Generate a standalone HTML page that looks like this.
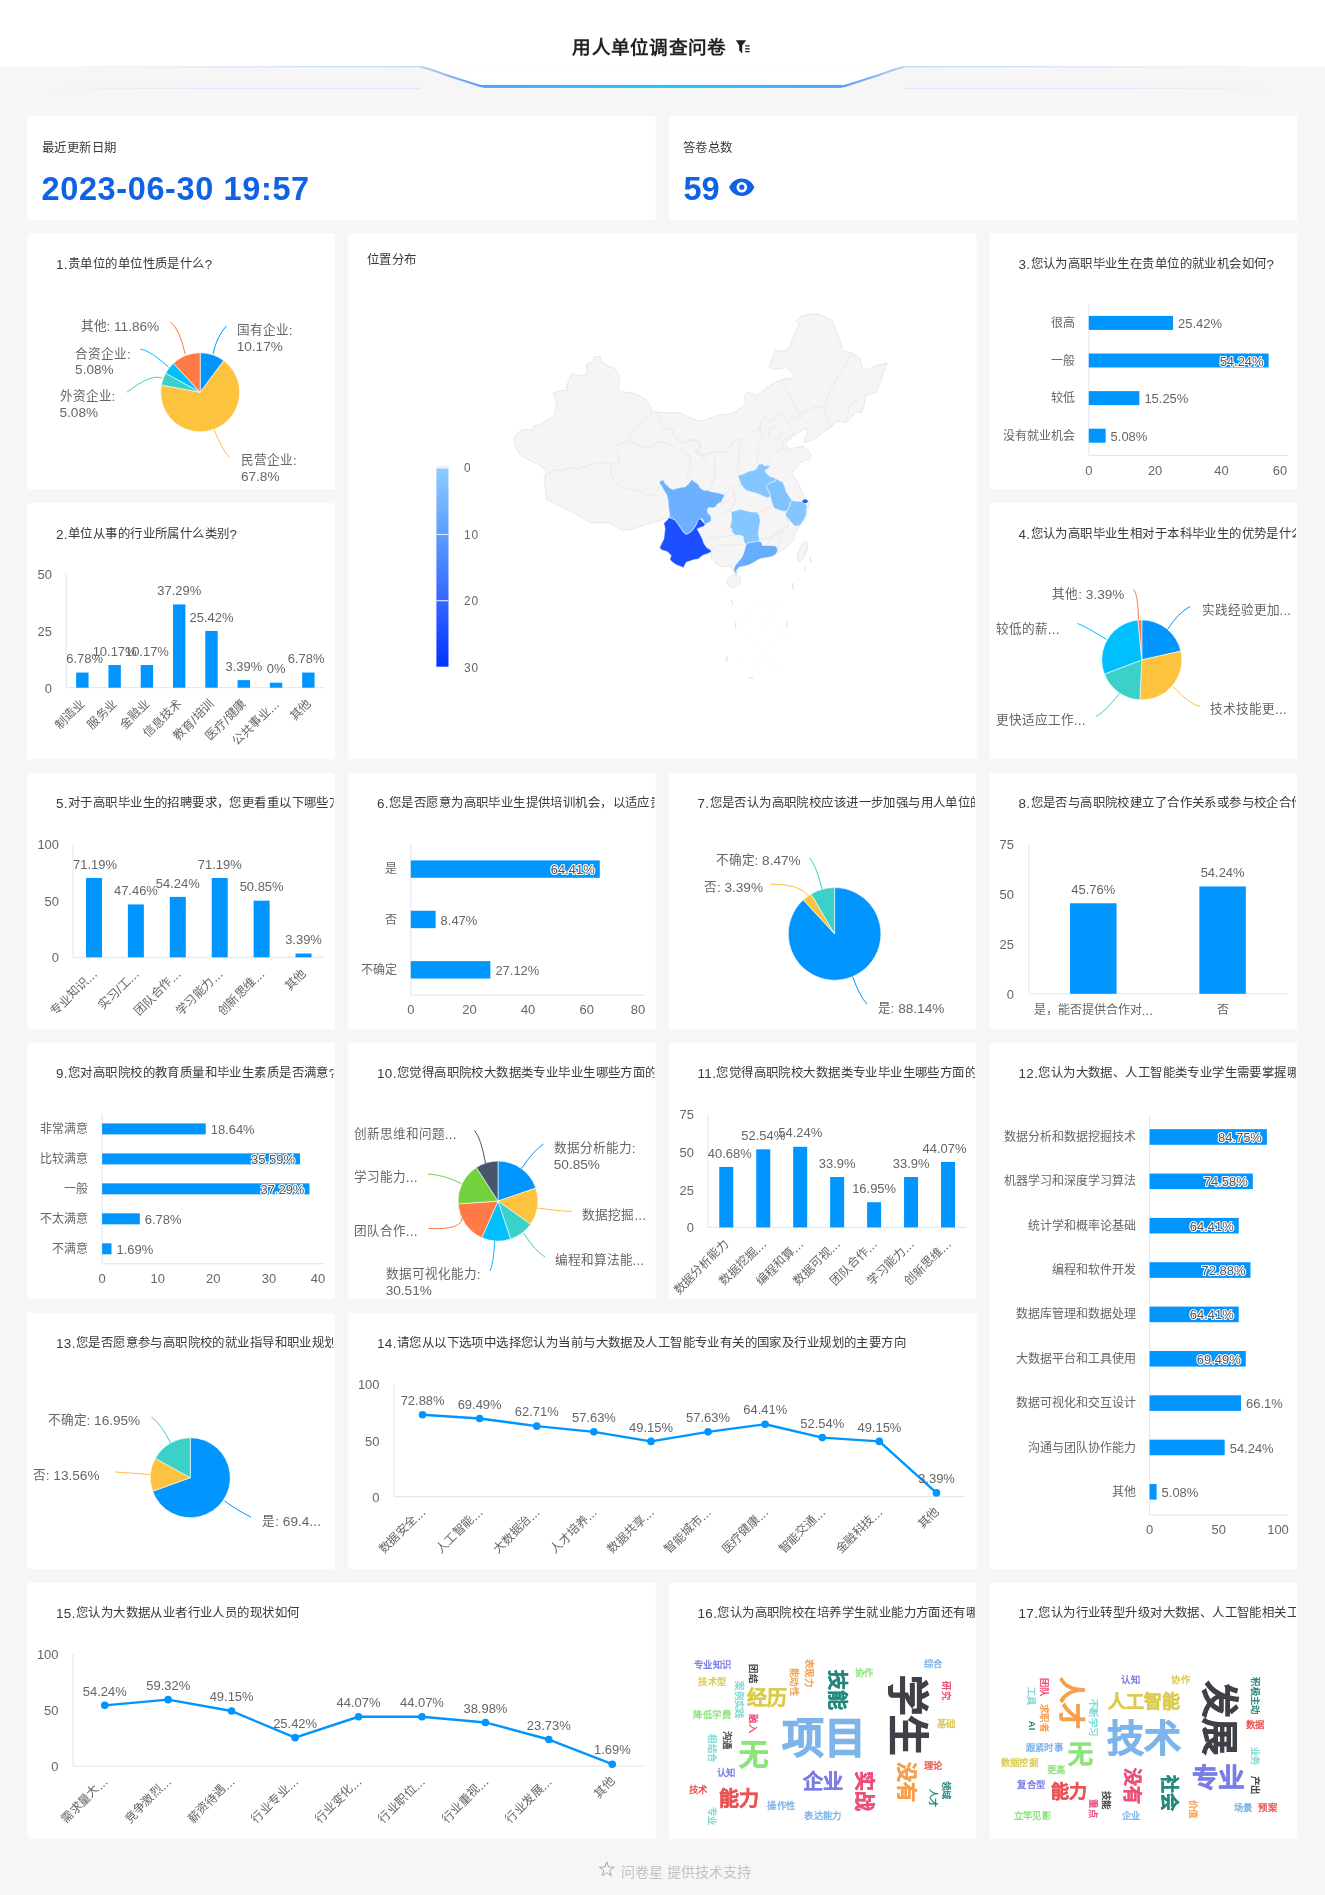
<!DOCTYPE html>
<html lang="zh-CN"><head><meta charset="utf-8"><title>用人单位调查问卷</title>
<style>
html,body{margin:0;padding:0;background:#f6f6f6;}
body{width:1325px;height:1895px;overflow:hidden;font-family:"Liberation Sans", sans-serif;}
svg{display:block;font-family:"Liberation Sans", sans-serif;will-change:transform;}
</style></head><body>
<svg width="1325" height="1895" viewBox="0 0 1325 1895">
<rect x="0.00" y="0.00" width="1325.00" height="1895.00" fill="#f6f6f6" />
<rect x="0.00" y="0.00" width="1325.00" height="66.50" fill="#ffffff" />
<defs>
<linearGradient id="hl" x1="0" y1="0" x2="1" y2="0">
<stop offset="0" stop-color="#5aa0f2"/><stop offset="0.5" stop-color="#1ec8ee"/>
<stop offset="1" stop-color="#5aa0f2"/></linearGradient>
<linearGradient id="fl" x1="0" y1="0" x2="1" y2="0">
<stop offset="0" stop-color="#c6dbf8" stop-opacity="0"/><stop offset="0.5" stop-color="#c6dbf8" stop-opacity="0.7"/>
<stop offset="1" stop-color="#b9d3f7"/></linearGradient>
<linearGradient id="fr" x1="1" y1="0" x2="0" y2="0">
<stop offset="0" stop-color="#c6dbf8" stop-opacity="0"/><stop offset="0.5" stop-color="#c6dbf8" stop-opacity="0.7"/>
<stop offset="1" stop-color="#b9d3f7"/></linearGradient>
<linearGradient id="fl2" x1="0" y1="0" x2="1" y2="0">
<stop offset="0" stop-color="#d6e5fa" stop-opacity="0"/><stop offset="0.4" stop-color="#d6e5fa"/>
<stop offset="1" stop-color="#d6e5fa"/></linearGradient>
<linearGradient id="fr2" x1="1" y1="0" x2="0" y2="0">
<stop offset="0" stop-color="#d6e5fa" stop-opacity="0"/><stop offset="0.4" stop-color="#d6e5fa"/>
<stop offset="1" stop-color="#d6e5fa"/></linearGradient>
<linearGradient id="dl" x1="0" y1="0" x2="1" y2="0">
<stop offset="0" stop-color="#b9d3f7"/><stop offset="0.5" stop-color="#7fb3f4"/><stop offset="1" stop-color="#4f9af0"/></linearGradient>
<linearGradient id="dr" x1="1" y1="0" x2="0" y2="0">
<stop offset="0" stop-color="#b9d3f7"/><stop offset="0.5" stop-color="#7fb3f4"/><stop offset="1" stop-color="#4f9af0"/></linearGradient>
<linearGradient id="vm" x1="0" y1="0" x2="0" y2="1">
<stop offset="0" stop-color="#8ccdff"/><stop offset="0.333" stop-color="#5b9dff"/>
<stop offset="0.667" stop-color="#3366ff"/><stop offset="1" stop-color="#0033ff"/></linearGradient>
</defs>
<path d="M419,66.5 L437,72 L483,86.5 L842,86.5 L888,72 L906,66.5 Z" fill="#ffffff"/>
<rect x="40.00" y="66.20" width="381.00" height="1.10" fill="url(#fl)" />
<rect x="904.00" y="66.20" width="381.00" height="1.10" fill="url(#fr)" />
<rect x="40.00" y="87.80" width="381.00" height="1.00" fill="url(#fl2)" />
<rect x="904.00" y="87.80" width="381.00" height="1.00" fill="url(#fr2)" />
<path d="M421,66.8 C428,68.5 436,71.5 446,75 L478,85.2 C480,86 482,86.4 485,86.4" fill="none" stroke="url(#dl)" stroke-width="2" stroke-linecap="round"/>
<path d="M904,66.8 C897,68.5 889,71.5 879,75 L847,85.2 C845,86 843,86.4 840,86.4" fill="none" stroke="url(#dr)" stroke-width="2" stroke-linecap="round"/>
<rect x="483.50" y="84.90" width="358.00" height="3.00" fill="url(#hl)" />
<text x="649.5" y="47.5" font-size="18.6" fill="#222222" text-anchor="middle" font-weight="bold" dominant-baseline="central" letter-spacing="0.3">用人单位调查问卷</text>
<path d="M735.9,40.3 L746.2,40.3 L742.2,45.6 L742.2,53.5 L739.2,50.6 L739.2,45.6 Z" fill="#222222"/>
<line x1="745.20" y1="45.90" x2="749.60" y2="45.90" stroke="#222222" stroke-width="1.3"/>
<line x1="745.20" y1="48.80" x2="749.60" y2="48.80" stroke="#222222" stroke-width="1.3"/>
<line x1="745.20" y1="51.60" x2="749.60" y2="51.60" stroke="#222222" stroke-width="1.3"/>
<rect x="27.50" y="116.00" width="628.00" height="104.00" fill="#ffffff" />
<rect x="669.00" y="116.00" width="628.20" height="104.00" fill="#ffffff" />
<text x="42.0" y="148.2" font-size="12.4" fill="#3a3a3a" dominant-baseline="central" letter-spacing="0.42">最近更新日期</text>
<text x="41.5" y="189.0" font-size="32.5" fill="#0f62e6" font-weight="bold" dominant-baseline="central" letter-spacing="0.62">2023-06-30 19:57</text>
<text x="683.0" y="148.2" font-size="12.4" fill="#3a3a3a" dominant-baseline="central" letter-spacing="0.42">答卷总数</text>
<text x="683.5" y="189.0" font-size="32.5" fill="#0f62e6" font-weight="bold" dominant-baseline="central">59</text>
<path d="M729.3,187.2 C733.3,175.6 750.2,175.6 754.2,187.2 C750.2,198.8 733.3,198.8 729.3,187.2 Z" fill="#0f62e6"/>
<circle cx="741.8" cy="187.2" r="5.3" fill="#ffffff"/>
<circle cx="741.8" cy="187.2" r="2.6" fill="#0f62e6"/>
<rect x="27.50" y="233.40" width="307.00" height="256.00" fill="#ffffff" />
<rect x="348.50" y="233.40" width="628.00" height="525.85" fill="#ffffff" />
<rect x="990.00" y="233.40" width="307.00" height="256.00" fill="#ffffff" />
<rect x="27.50" y="503.25" width="307.00" height="256.00" fill="#ffffff" />
<rect x="990.00" y="503.25" width="307.00" height="256.00" fill="#ffffff" />
<rect x="27.50" y="773.10" width="307.00" height="256.00" fill="#ffffff" />
<rect x="348.50" y="773.10" width="307.00" height="256.00" fill="#ffffff" />
<rect x="669.00" y="773.10" width="307.00" height="256.00" fill="#ffffff" />
<rect x="990.00" y="773.10" width="307.00" height="256.00" fill="#ffffff" />
<rect x="27.50" y="1042.95" width="307.00" height="256.00" fill="#ffffff" />
<rect x="348.50" y="1042.95" width="307.00" height="256.00" fill="#ffffff" />
<rect x="669.00" y="1042.95" width="307.00" height="256.00" fill="#ffffff" />
<rect x="990.00" y="1042.95" width="307.00" height="525.85" fill="#ffffff" />
<rect x="27.50" y="1312.80" width="307.00" height="256.00" fill="#ffffff" />
<rect x="348.50" y="1312.80" width="628.00" height="256.00" fill="#ffffff" />
<rect x="27.50" y="1582.65" width="628.00" height="256.00" fill="#ffffff" />
<rect x="669.00" y="1582.65" width="307.00" height="256.00" fill="#ffffff" />
<rect x="990.00" y="1582.65" width="307.00" height="256.00" fill="#ffffff" />
<defs>
<clipPath id="cp0"><rect x="27.50" y="233.40" width="306.00" height="256.00"/></clipPath>
<clipPath id="cp1"><rect x="348.50" y="233.40" width="627.00" height="525.85"/></clipPath>
<clipPath id="cp2"><rect x="990.00" y="233.40" width="306.00" height="256.00"/></clipPath>
<clipPath id="cp3"><rect x="27.50" y="503.25" width="306.00" height="256.00"/></clipPath>
<clipPath id="cp4"><rect x="990.00" y="503.25" width="306.00" height="256.00"/></clipPath>
<clipPath id="cp5"><rect x="27.50" y="773.10" width="306.00" height="256.00"/></clipPath>
<clipPath id="cp6"><rect x="348.50" y="773.10" width="306.00" height="256.00"/></clipPath>
<clipPath id="cp7"><rect x="669.00" y="773.10" width="306.00" height="256.00"/></clipPath>
<clipPath id="cp8"><rect x="990.00" y="773.10" width="306.00" height="256.00"/></clipPath>
<clipPath id="cp9"><rect x="27.50" y="1042.95" width="306.00" height="256.00"/></clipPath>
<clipPath id="cp10"><rect x="348.50" y="1042.95" width="306.00" height="256.00"/></clipPath>
<clipPath id="cp11"><rect x="669.00" y="1042.95" width="306.00" height="256.00"/></clipPath>
<clipPath id="cp12"><rect x="990.00" y="1042.95" width="306.00" height="525.85"/></clipPath>
<clipPath id="cp13"><rect x="27.50" y="1312.80" width="306.00" height="256.00"/></clipPath>
<clipPath id="cp14"><rect x="348.50" y="1312.80" width="627.00" height="256.00"/></clipPath>
<clipPath id="cp15"><rect x="27.50" y="1582.65" width="627.00" height="256.00"/></clipPath>
<clipPath id="cp16"><rect x="669.00" y="1582.65" width="306.00" height="256.00"/></clipPath>
<clipPath id="cp17"><rect x="990.00" y="1582.65" width="306.00" height="256.00"/></clipPath>
</defs>
<g clip-path="url(#cp0)">
<text x="56.0" y="263.7" font-size="12.4" fill="#3a3a3a" dominant-baseline="central" letter-spacing="0.42"><tspan font-size="13.39">1.</tspan>贵单位的单位性质是什么<tspan font-size="13.39">?</tspan></text>
<path d="M200.20,392.30 L200.20,352.80 A39.5,39.5 0 0 1 223.76,360.60 Z" fill="#0095ff" stroke="#ffffff" stroke-width="0.6" stroke-linejoin="round"/>
<path d="M200.20,392.30 L223.76,360.60 A39.5,39.5 0 1 1 161.39,384.95 Z" fill="#fdc23e" stroke="#ffffff" stroke-width="0.6" stroke-linejoin="round"/>
<path d="M200.20,392.30 L161.39,384.95 A39.5,39.5 0 0 1 165.66,373.14 Z" fill="#3bd1c9" stroke="#ffffff" stroke-width="0.6" stroke-linejoin="round"/>
<path d="M200.20,392.30 L165.66,373.14 A39.5,39.5 0 0 1 173.41,363.27 Z" fill="#00bfff" stroke="#ffffff" stroke-width="0.6" stroke-linejoin="round"/>
<path d="M200.20,392.30 L173.41,363.27 A39.5,39.5 0 0 1 200.20,352.80 Z" fill="#ff7a45" stroke="#ffffff" stroke-width="0.6" stroke-linejoin="round"/>
<path d="M213.0,353.9 Q217.0,336.0 226.4,326.0" fill="none" stroke="#0095ff" stroke-width="1"/>
<path d="M214.1,429.4 Q221.0,448.0 229.2,457.3" fill="none" stroke="#fdc23e" stroke-width="1"/>
<path d="M161.9,378.3 Q152.0,373.0 127.0,392.2" fill="none" stroke="#3bd1c9" stroke-width="1"/>
<path d="M168.8,367.4 Q150.0,350.0 140.2,349.2" fill="none" stroke="#00bfff" stroke-width="1"/>
<path d="M185.1,353.9 Q180.0,330.0 170.7,322.0" fill="none" stroke="#ff7a45" stroke-width="1"/>
<text x="236.7" y="330.2" font-size="12.6" fill="#666666" dominant-baseline="central">国有企业<tspan font-size="13.61">:</tspan></text>
<text x="236.7" y="346.2" font-size="12.6" fill="#666666" dominant-baseline="central"><tspan font-size="13.61">10.17%</tspan></text>
<text x="240.9" y="460.3" font-size="12.6" fill="#666666" dominant-baseline="central">民营企业<tspan font-size="13.61">:</tspan></text>
<text x="240.9" y="476.2" font-size="12.6" fill="#666666" dominant-baseline="central"><tspan font-size="13.61">67.8%</tspan></text>
<text x="59.5" y="396.4" font-size="12.6" fill="#666666" dominant-baseline="central">外资企业<tspan font-size="13.61">:</tspan></text>
<text x="59.5" y="412.2" font-size="12.6" fill="#666666" dominant-baseline="central"><tspan font-size="13.61">5.08%</tspan></text>
<text x="75.1" y="353.5" font-size="12.6" fill="#666666" dominant-baseline="central">合资企业<tspan font-size="13.61">:</tspan></text>
<text x="75.1" y="369.2" font-size="12.6" fill="#666666" dominant-baseline="central"><tspan font-size="13.61">5.08%</tspan></text>
<text x="80.5" y="326.0" font-size="12.6" fill="#666666" dominant-baseline="central">其他<tspan font-size="13.61">: 11.86%</tspan></text>
</g>
<g clip-path="url(#cp1)">
<text x="367.0" y="259.5" font-size="12.4" fill="#3a3a3a" dominant-baseline="central" letter-spacing="0.42">位置分布</text>
<path d="M513.8,438.9 L516.3,434.1 L521.6,430.3 L526.1,429.5 L532.2,430.3 L534.4,425.8 L541.2,424.2 L547.3,419.7 L554.1,416.7 L554.8,410.7 L557.1,406.1 L554.8,397.1 L552.5,393.3 L563.1,390.3 L568.4,391.0 L566.1,387.3 L571.4,373.7 L582.0,375.9 L587.3,374.4 L586.5,363.9 L593.3,361.6 L594.1,357.1 L600.1,356.3 L601.6,361.6 L609.2,366.9 L615.2,368.4 L619.7,377.5 L618.2,388.8 L621.2,391.8 L633.3,393.3 L646.1,399.3 L652.9,412.2 L657.5,412.2 L671.0,412.9 L680.1,412.9 L689.2,417.5 L695.0,419.7 L702.5,421.2 L717.6,415.2 L732.7,413.7 L743.3,406.1 L745.6,401.6 L744.1,397.1 L747.1,392.5 L756.9,395.3 L764.4,389.5 L773.5,383.5 L781.0,379.7 L789.3,378.2 L794.6,379.0 L793.9,374.4 L787.1,367.6 L779.5,368.4 L772.0,369.2 L769.0,366.1 L775.8,350.3 L782.5,351.8 L790.1,347.3 L790.8,342.7 L795.4,332.2 L799.2,324.6 L796.1,320.8 L800.7,316.3 L809.7,314.1 L818.8,314.1 L826.3,317.1 L832.4,320.8 L836.1,330.7 L840.7,342.7 L842.9,351.0 L852.0,353.3 L859.5,357.8 L862.5,368.4 L868.6,369.9 L874.6,366.1 L887.5,363.1 L884.4,369.9 L880.7,380.5 L876.1,392.5 L865.6,395.6 L864.0,406.1 L861.0,412.9 L856.5,411.4 L845.9,422.7 L836.9,421.2 L830.8,427.3 L823.3,431.8 L814.2,439.3 L803.7,443.1 L807.5,431.8 L806.7,428.0 L802.2,430.3 L794.6,434.8 L787.1,442.4 L785.6,444.6 L790.0,450.0 L795.0,447.5 L803.7,446.5 L811.2,454.3 L810.5,458.1 L800.7,462.6 L793.1,471.7 L791.6,474.7 L796.1,479.2 L800.7,488.3 L803.7,495.8 L807.5,500.4 L809.7,503.4 L807.5,510.9 L806.7,515.5 L800.7,524.5 L794.6,533.6 L793.9,539.6 L788.6,545.7 L778.0,552.5 L770.5,554.7 L761.4,557.7 L755.4,560.8 L744.8,563.8 L738.8,565.3 L735.0,569.8 L737.3,574.3 L734.2,574.3 L732.7,568.3 L729.7,566.0 L722.2,566.8 L716.1,563.8 L711.1,558.0 L711.1,549.3 L711.3,552.1 L707.9,553.5 L702.5,555.5 L698.4,558.9 L694.3,559.6 L686.2,562.3 L683.5,567.8 L680.8,566.4 L676.7,565.1 L672.6,562.3 L669.9,559.6 L671.2,555.5 L667.2,551.5 L661.7,550.1 L659.7,547.4 L661.7,543.3 L663.8,539.2 L664.5,533.8 L665.1,528.4 L663.8,522.9 L665.8,521.6 L669.2,517.5 L646.3,524.3 L634.5,528.7 L622.8,530.2 L608.0,522.8 L590.4,522.8 L575.7,514.0 L558.0,505.2 L546.2,499.3 L544.7,481.6 L546.2,469.9 L537.4,464.0 L519.7,455.1 L515.3,446.3 Z" fill="#f5f5f5" stroke="#e2e2e2" stroke-width="0.8" stroke-linejoin="round"/>
<path d="M542.5,476.8 L546.2,475.3 L553.8,470.0 L561.3,470.8 L570.4,467.7 L577.9,469.2 L590.0,464.7 L600.6,462.5 L609.6,463.2 L615.7,464.7 L619.4,462.5" fill="none" stroke="#e4e4e4" stroke-width="0.7"/>
<path d="M619.4,462.5 L618.7,455.7 L615.7,448.1 L615.7,445.8 L624.7,442.8 L629.2,440.6 L630.8,433.0 L636.8,425.5 L645.8,419.4 L650.4,416.4 L651.9,412.6" fill="none" stroke="#e4e4e4" stroke-width="0.7"/>
<path d="M610.4,464.7 L611.1,475.3 L615.7,482.8 L624.7,487.4 L636.8,490.4 L644.3,492.6 L647.4,496.4 L654.9,494.9 L659.4,485.8" fill="none" stroke="#e4e4e4" stroke-width="0.7"/>
<path d="M629.2,440.6 L635.3,442.8 L641.3,446.6 L650.4,448.1 L656.4,442.1 L665.5,442.8 L674.5,446.6 L683.6,452.6 L689.6,455.7 L691.1,464.7 L688.1,475.3 L686.6,479.8" fill="none" stroke="#e4e4e4" stroke-width="0.7"/>
<path d="M657.2,412.6 L659.4,420.9 L664.0,428.5 L668.5,429.2 L674.5,428.5 L671.5,434.5 L677.5,439.1 L683.6,443.6 L691.1,440.6 L698.7,440.6 L700.2,446.6 L695.7,452.6 L704.7,455.7 L710.0,454.2" fill="none" stroke="#e4e4e4" stroke-width="0.7"/>
<path d="M690.0,439.1 L698.5,440.2 L700.6,447.5 L694.2,450.7 L701.6,454.9 L717.5,451.8 L727.0,452.8 L733.3,441.2 L742.8,439.1 L749.2,431.7 L758.7,430.6 L761.9,421.1 L764.0,417.4 L770.3,421.1 L779.8,413.7 L784.0,414.8 L786.2,420.1 L789.3,424.3 L791.4,416.9 L795.7,420.1 L800.9,412.7 L816.8,406.3 L826.3,408.5" fill="none" stroke="#e4e4e4" stroke-width="0.7"/>
<path d="M742.8,439.1 L739.7,447.5 L738.6,458.1 L737.5,474.0" fill="none" stroke="#e4e4e4" stroke-width="0.7"/>
<path d="M761.9,421.1 L759.7,429.6 L762.9,437.0 L757.6,445.4 L758.7,452.8 L756.6,462.3" fill="none" stroke="#e4e4e4" stroke-width="0.7"/>
<path d="M767.1,463.4 L772.4,454.9 L781.9,448.6 L789.3,449.7" fill="none" stroke="#e4e4e4" stroke-width="0.7"/>
<path d="M789.3,424.3 L793.6,433.8 L781.9,442.3 L783.0,447.5" fill="none" stroke="#e4e4e4" stroke-width="0.7"/>
<path d="M770.3,427.5 L774.5,426.4 L779.8,430.6 L780.9,437.0 L777.7,439.1 L769.2,437.0 L768.2,431.7 L770.3,427.5" fill="none" stroke="#e4e4e4" stroke-width="0.7"/>
<path d="M714.3,457.1 L715.4,474.0 L711.1,486.6 L708.0,491.9" fill="none" stroke="#e4e4e4" stroke-width="0.7"/>
<path d="M701.6,454.9 L705.8,463.4 L713.2,471.9" fill="none" stroke="#e4e4e4" stroke-width="0.7"/>
<path d="M724.9,495.1 L732.3,486.6 L741.8,485.6" fill="none" stroke="#e4e4e4" stroke-width="0.7"/>
<path d="M732.3,486.6 L735.4,501.4 L730.2,509.9" fill="none" stroke="#e4e4e4" stroke-width="0.7"/>
<path d="M758.7,512.0 L764.0,509.9 L771.4,505.7" fill="none" stroke="#e4e4e4" stroke-width="0.7"/>
<path d="M759.9,539.6 L770.0,538.0 L780.0,532.0 L788.0,525.0 L785.6,514.0" fill="none" stroke="#e4e4e4" stroke-width="0.7"/>
<path d="M711.0,549.3 L720.0,545.0 L735.0,545.0 L743.0,544.0" fill="none" stroke="#e4e4e4" stroke-width="0.7"/>
<path d="M830.8,427.3 L825.0,415.0 L826.0,400.0 L836.1,380.0 L845.0,365.0 L852.0,353.3" fill="none" stroke="#e4e4e4" stroke-width="0.7"/>
<path d="M845.9,422.7 L850.0,405.0 L862.5,395.6" fill="none" stroke="#e4e4e4" stroke-width="0.7"/>
<path d="M720.0,505.0 L728.0,500.0 L738.0,492.0" fill="none" stroke="#e4e4e4" stroke-width="0.7"/>
<path d="M716.0,520.0 L725.0,512.0 L731.0,511.0" fill="none" stroke="#e4e4e4" stroke-width="0.7"/>
<path d="M700.0,545.0 L712.0,538.0 L725.0,536.0 L735.0,535.0" fill="none" stroke="#e4e4e4" stroke-width="0.7"/>
<path d="M777.0,552.0 L779.0,540.0 L783.0,530.0 L788.0,526.0" fill="none" stroke="#e4e4e4" stroke-width="0.7"/>
<path d="M767.0,545.0 L775.0,533.0 L785.0,525.0" fill="none" stroke="#e4e4e4" stroke-width="0.7"/>
<path d="M780.0,380.0 L790.0,395.0 L800.0,415.0 L810.0,425.0" fill="none" stroke="#e4e4e4" stroke-width="0.7"/>
<path d="M659.7,480.8 L663.8,480.1 L665.1,483.5 L669.2,487.6 L672.6,489.6 L679.4,487.6 L684.8,486.9 L688.2,484.2 L691.6,479.5 L694.3,481.5 L697.1,483.5 L699.1,485.6 L700.5,488.3 L703.9,490.3 L707.9,490.3 L711.3,491.7 L716.1,492.4 L721.5,493.7 L724.9,495.1 L722.9,498.5 L721.5,501.9 L717.4,503.9 L715.4,507.3 L712.0,508.0 L709.3,507.3 L707.3,509.3 L707.9,513.4 L710.7,515.5 L711.3,520.2 L709.3,522.3 L705.2,524.3 L703.9,522.3 L702.5,518.9 L699.8,518.9 L697.1,522.9 L695.7,525.7 L693.0,529.7 L690.3,532.4 L686.2,534.5 L683.5,532.4 L680.8,528.4 L678.0,524.3 L675.3,520.2 L672.6,518.9 L669.9,517.5 L669.2,512.1 L668.5,506.6 L667.9,499.8 L666.5,494.4 L663.8,490.3 L661.7,486.2 L659.7,483.5 Z" fill="#6cb0ff" stroke="#ffffff" stroke-width="0.5" stroke-linejoin="round"/>
<path d="M669.2,517.5 L672.6,518.9 L675.3,520.2 L678.0,524.3 L680.8,528.4 L683.5,532.4 L686.2,534.5 L690.3,532.4 L693.0,529.7 L695.7,525.7 L697.1,522.9 L698.4,519.5 L700.5,518.9 L702.5,521.6 L705.2,524.3 L703.9,526.3 L699.8,527.7 L697.1,529.0 L699.8,533.8 L702.5,539.2 L703.9,543.3 L706.6,547.4 L710.7,550.1 L711.3,552.1 L707.9,553.5 L702.5,555.5 L698.4,558.9 L694.3,559.6 L686.2,562.3 L683.5,567.8 L680.8,566.4 L676.7,565.1 L672.6,562.3 L669.9,559.6 L671.2,555.5 L667.2,551.5 L661.7,550.1 L659.7,547.4 L661.7,543.3 L663.8,539.2 L664.5,533.8 L665.1,528.4 L663.8,522.9 L665.8,521.6 Z" fill="#1c4fff" stroke="#ffffff" stroke-width="0.5" stroke-linejoin="round"/>
<path d="M737.8,475.4 L743.3,474.0 L748.7,471.3 L752.8,470.6 L756.8,468.6 L758.2,464.5 L762.3,463.8 L764.3,465.9 L767.7,465.2 L770.4,465.9 L767.7,468.6 L765.0,470.6 L765.7,472.7 L770.4,476.7 L774.5,477.4 L775.9,480.8 L772.5,482.2 L769.1,483.5 L767.0,485.6 L766.4,487.6 L769.1,491.7 L770.4,494.4 L770.4,497.1 L766.4,497.8 L762.3,495.8 L759.6,494.4 L755.5,493.0 L750.1,491.7 L746.0,490.3 L743.3,487.6 L740.5,483.5 L739.2,479.5 Z" fill="#84c6ff" stroke="#ffffff" stroke-width="0.5" stroke-linejoin="round"/>
<path d="M774.5,477.4 L777.2,479.5 L779.9,480.8 L782.7,482.2 L784.7,486.2 L786.1,491.7 L788.1,494.4 L789.5,497.1 L792.2,500.5 L790.1,502.6 L789.5,506.6 L788.1,509.3 L786.7,510.7 L784.0,511.4 L781.3,510.7 L777.2,509.3 L773.8,508.0 L772.5,503.9 L771.1,499.8 L770.4,497.1 L770.4,494.4 L769.1,491.7 L766.4,487.6 L767.0,485.6 L769.1,483.5 L772.5,482.2 L775.9,480.8 Z" fill="#80c2ff" stroke="#ffffff" stroke-width="0.5" stroke-linejoin="round"/>
<path d="M792.2,500.5 L796.2,501.2 L800.3,501.2 L803.0,502.6 L805.8,503.9 L807.1,506.6 L806.4,510.7 L806.4,514.8 L804.4,518.9 L801.7,522.9 L799.0,525.7 L794.9,526.3 L792.2,523.6 L789.5,520.2 L786.1,516.1 L785.4,513.4 L788.1,509.3 L789.5,506.6 L790.1,502.6 Z" fill="#84c6ff" stroke="#ffffff" stroke-width="0.5" stroke-linejoin="round"/>
<path d="M731.0,512.1 L735.1,510.7 L740.5,509.3 L746.0,510.7 L751.4,512.1 L756.8,512.1 L759.6,516.1 L760.2,521.6 L758.9,528.4 L758.2,533.8 L759.6,539.2 L758.2,542.0 L754.1,542.0 L748.7,542.6 L746.0,544.7 L743.9,542.0 L743.3,536.5 L739.2,535.2 L735.1,535.2 L732.4,532.4 L731.7,528.4 L729.7,528.4 L731.0,522.9 L731.7,517.5 Z" fill="#84c6ff" stroke="#ffffff" stroke-width="0.5" stroke-linejoin="round"/>
<path d="M746.0,544.7 L748.7,542.6 L754.1,542.0 L758.2,541.3 L761.6,542.0 L762.3,545.4 L766.4,545.4 L771.8,545.4 L775.9,546.0 L777.9,550.1 L775.9,554.2 L772.5,556.2 L767.7,557.6 L762.3,558.3 L758.2,559.6 L754.1,562.3 L748.7,565.1 L743.3,566.4 L739.2,567.1 L736.5,570.5 L737.1,573.2 L735.1,573.2 L733.8,569.1 L735.1,565.7 L737.8,562.3 L741.2,558.3 L743.3,554.2 L744.6,550.1 Z" fill="#68acff" stroke="#ffffff" stroke-width="0.5" stroke-linejoin="round"/>
<ellipse cx="805.1" cy="501.2" rx="2.7" ry="2" fill="#2d5cff"/>
<ellipse cx="734" cy="581.3" rx="7" ry="6" fill="#f5f5f5" stroke="#e2e2e2" stroke-width="0.7" transform="rotate(-25 734 581.3)"/>
<ellipse cx="802.5" cy="551.5" rx="3.6" ry="11" fill="#f5f5f5" stroke="#e2e2e2" stroke-width="0.7" transform="rotate(20 802.5 551.5)"/>
<line x1="731.00" y1="600.00" x2="733.00" y2="605.00" stroke="#dcdcdc" stroke-width="1"/>
<line x1="736.00" y1="622.00" x2="735.50" y2="628.00" stroke="#dcdcdc" stroke-width="1"/>
<line x1="727.00" y1="656.00" x2="726.50" y2="662.00" stroke="#dcdcdc" stroke-width="1"/>
<line x1="748.00" y1="677.00" x2="753.00" y2="679.00" stroke="#dcdcdc" stroke-width="1"/>
<line x1="788.00" y1="621.00" x2="786.00" y2="627.00" stroke="#dcdcdc" stroke-width="1"/>
<line x1="793.00" y1="583.00" x2="792.50" y2="589.00" stroke="#dcdcdc" stroke-width="1"/>
<line x1="806.00" y1="566.00" x2="804.00" y2="571.00" stroke="#dcdcdc" stroke-width="1"/>
<line x1="810.00" y1="557.00" x2="811.00" y2="562.00" stroke="#dcdcdc" stroke-width="1"/>
<rect x="749.2" y="638.1" width="0.9" height="0.9" fill="#e6e6e6"/>
<rect x="755.4" y="642.3" width="0.9" height="0.9" fill="#e6e6e6"/>
<rect x="767.4" y="604.6" width="0.9" height="0.9" fill="#e6e6e6"/>
<rect x="738.6" y="658.6" width="0.9" height="0.9" fill="#e6e6e6"/>
<rect x="750.2" y="616.4" width="0.9" height="0.9" fill="#e6e6e6"/>
<rect x="784.8" y="632.9" width="0.9" height="0.9" fill="#e6e6e6"/>
<rect x="777.3" y="633.3" width="0.9" height="0.9" fill="#e6e6e6"/>
<rect x="768.0" y="610.5" width="0.9" height="0.9" fill="#e6e6e6"/>
<rect x="767.8" y="660.8" width="0.9" height="0.9" fill="#e6e6e6"/>
<rect x="762.6" y="651.9" width="0.9" height="0.9" fill="#e6e6e6"/>
<rect x="769.6" y="604.5" width="0.9" height="0.9" fill="#e6e6e6"/>
<rect x="773.6" y="641.4" width="0.9" height="0.9" fill="#e6e6e6"/>
<rect x="752.2" y="602.2" width="0.9" height="0.9" fill="#e6e6e6"/>
<rect x="778.7" y="633.1" width="0.9" height="0.9" fill="#e6e6e6"/>
<rect x="771.8" y="661.5" width="0.9" height="0.9" fill="#e6e6e6"/>
<rect x="771.6" y="664.5" width="0.9" height="0.9" fill="#e6e6e6"/>
<rect x="756.6" y="656.1" width="0.9" height="0.9" fill="#e6e6e6"/>
<rect x="758.9" y="665.5" width="0.9" height="0.9" fill="#e6e6e6"/>
<rect x="779.3" y="606.8" width="0.9" height="0.9" fill="#e6e6e6"/>
<rect x="744.4" y="615.2" width="0.9" height="0.9" fill="#e6e6e6"/>
<rect x="783.4" y="630.5" width="0.9" height="0.9" fill="#e6e6e6"/>
<rect x="767.5" y="621.1" width="0.9" height="0.9" fill="#e6e6e6"/>
<rect x="761.8" y="627.0" width="0.9" height="0.9" fill="#e6e6e6"/>
<rect x="754.5" y="641.0" width="0.9" height="0.9" fill="#e6e6e6"/>
<rect x="765.5" y="663.3" width="0.9" height="0.9" fill="#e6e6e6"/>
<rect x="770.1" y="665.0" width="0.9" height="0.9" fill="#e6e6e6"/>
<rect x="778.3" y="669.4" width="0.9" height="0.9" fill="#e6e6e6"/>
<rect x="769.5" y="611.4" width="0.9" height="0.9" fill="#e6e6e6"/>
<rect x="436.40" y="466.20" width="12.10" height="2.40" fill="#eeeeee" />
<rect x="436.40" y="468.60" width="12.10" height="198.10" fill="url(#vm)" />
<rect x="436.40" y="533.90" width="12.10" height="1.20" fill="#dde6f5" />
<rect x="436.40" y="600.10" width="12.10" height="1.20" fill="#dde6f5" />
<text x="464.0" y="468.0" font-size="11" fill="#666666" dominant-baseline="central" letter-spacing="1"><tspan font-size="11.88">0</tspan></text>
<text x="464.0" y="535.0" font-size="11" fill="#666666" dominant-baseline="central" letter-spacing="1"><tspan font-size="11.88">10</tspan></text>
<text x="464.0" y="601.0" font-size="11" fill="#666666" dominant-baseline="central" letter-spacing="1"><tspan font-size="11.88">20</tspan></text>
<text x="464.0" y="667.5" font-size="11" fill="#666666" dominant-baseline="central" letter-spacing="1"><tspan font-size="11.88">30</tspan></text>
</g>
<g clip-path="url(#cp2)">
<text x="1018.5" y="263.7" font-size="12.4" fill="#3a3a3a" dominant-baseline="central" letter-spacing="0.42"><tspan font-size="13.39">3.</tspan>您认为高职毕业生在贵单位的就业机会如何<tspan font-size="13.39">?</tspan></text>
<line x1="1088.80" y1="305.00" x2="1088.80" y2="455.40" stroke="#dfe4f0" stroke-width="1"/>
<line x1="1088.80" y1="455.40" x2="1287.70" y2="455.40" stroke="#dfe4f0" stroke-width="1"/>
<text x="1088.8" y="469.6" font-size="12" fill="#666666" text-anchor="middle" dominant-baseline="central"><tspan font-size="12.96">0</tspan></text>
<text x="1155.1" y="469.6" font-size="12" fill="#666666" text-anchor="middle" dominant-baseline="central"><tspan font-size="12.96">20</tspan></text>
<text x="1221.4" y="469.6" font-size="12" fill="#666666" text-anchor="middle" dominant-baseline="central"><tspan font-size="12.96">40</tspan></text>
<text x="1280.0" y="469.6" font-size="12" fill="#666666" text-anchor="middle" dominant-baseline="central"><tspan font-size="12.96">60</tspan></text>
<rect x="1088.80" y="315.90" width="84.27" height="14.00" fill="#0095ff" />
<text x="1074.8" y="322.9" font-size="12" fill="#666666" text-anchor="end" dominant-baseline="central">很高</text>
<text x="1178.1" y="322.9" font-size="12" fill="#666666" dominant-baseline="central"><tspan font-size="12.96">25.42%</tspan></text>
<rect x="1088.80" y="353.50" width="179.81" height="14.00" fill="#0095ff" />
<text x="1074.8" y="360.5" font-size="12" fill="#666666" text-anchor="end" dominant-baseline="central">一般</text>
<text x="1263.6" y="360.5" font-size="12" fill="#555555" text-anchor="end" dominant-baseline="central" stroke="#ffffff" stroke-width="2.2" paint-order="stroke" stroke-linejoin="round"><tspan font-size="12.96">54.24%</tspan></text>
<rect x="1088.80" y="391.10" width="50.55" height="14.00" fill="#0095ff" />
<text x="1074.8" y="398.1" font-size="12" fill="#666666" text-anchor="end" dominant-baseline="central">较低</text>
<text x="1144.4" y="398.1" font-size="12" fill="#666666" dominant-baseline="central"><tspan font-size="12.96">15.25%</tspan></text>
<rect x="1088.80" y="428.70" width="16.84" height="14.00" fill="#0095ff" />
<text x="1074.8" y="435.7" font-size="12" fill="#666666" text-anchor="end" dominant-baseline="central">没有就业机会</text>
<text x="1110.6" y="435.7" font-size="12" fill="#666666" dominant-baseline="central"><tspan font-size="12.96">5.08%</tspan></text>
</g>
<g clip-path="url(#cp3)">
<text x="56.0" y="533.5" font-size="12.4" fill="#3a3a3a" dominant-baseline="central" letter-spacing="0.42"><tspan font-size="13.39">2.</tspan>单位从事的行业所属什么类别<tspan font-size="13.39">?</tspan></text>
<line x1="66.20" y1="574.00" x2="66.20" y2="687.70" stroke="#dfe4f0" stroke-width="1"/>
<line x1="66.20" y1="687.70" x2="324.50" y2="687.70" stroke="#dfe4f0" stroke-width="1"/>
<text x="52.0" y="687.7" font-size="12" fill="#666666" text-anchor="end" dominant-baseline="central"><tspan font-size="12.96">0</tspan></text>
<text x="52.0" y="630.9" font-size="12" fill="#666666" text-anchor="end" dominant-baseline="central"><tspan font-size="12.96">25</tspan></text>
<text x="52.0" y="574.0" font-size="12" fill="#666666" text-anchor="end" dominant-baseline="central"><tspan font-size="12.96">50</tspan></text>
<rect x="76.14" y="672.56" width="12.40" height="15.14" fill="#0095ff" />
<text x="84.6" y="658.2" font-size="12" fill="#666666" text-anchor="middle" dominant-baseline="central"><tspan font-size="12.96">6.78%</tspan></text>
<text x="82.6" y="701.7" font-size="12" fill="#666666" text-anchor="end" dominant-baseline="central" transform="rotate(-45 82.6 701.7)">制造业</text>
<rect x="108.43" y="664.99" width="12.40" height="22.71" fill="#0095ff" />
<text x="114.6" y="650.6" font-size="12" fill="#666666" text-anchor="middle" dominant-baseline="central"><tspan font-size="12.96">10.17%</tspan></text>
<text x="114.9" y="701.7" font-size="12" fill="#666666" text-anchor="end" dominant-baseline="central" transform="rotate(-45 114.9 701.7)">服务业</text>
<rect x="140.72" y="664.99" width="12.40" height="22.71" fill="#0095ff" />
<text x="146.9" y="650.6" font-size="12" fill="#666666" text-anchor="middle" dominant-baseline="central"><tspan font-size="12.96">10.17%</tspan></text>
<text x="147.2" y="701.7" font-size="12" fill="#666666" text-anchor="end" dominant-baseline="central" transform="rotate(-45 147.2 701.7)">金融业</text>
<rect x="173.01" y="604.43" width="12.40" height="83.27" fill="#0095ff" />
<text x="179.2" y="590.0" font-size="12" fill="#666666" text-anchor="middle" dominant-baseline="central"><tspan font-size="12.96">37.29%</tspan></text>
<text x="179.5" y="701.7" font-size="12" fill="#666666" text-anchor="end" dominant-baseline="central" transform="rotate(-45 179.5 701.7)">信息技术</text>
<rect x="205.29" y="630.94" width="12.40" height="56.76" fill="#0095ff" />
<text x="211.5" y="616.5" font-size="12" fill="#666666" text-anchor="middle" dominant-baseline="central"><tspan font-size="12.96">25.42%</tspan></text>
<text x="211.8" y="701.7" font-size="12" fill="#666666" text-anchor="end" dominant-baseline="central" transform="rotate(-45 211.8 701.7)">教育<tspan font-size="12.96">/</tspan>培训</text>
<rect x="237.58" y="680.13" width="12.40" height="7.57" fill="#0095ff" />
<text x="243.8" y="665.7" font-size="12" fill="#666666" text-anchor="middle" dominant-baseline="central"><tspan font-size="12.96">3.39%</tspan></text>
<text x="244.1" y="701.7" font-size="12" fill="#666666" text-anchor="end" dominant-baseline="central" transform="rotate(-45 244.1 701.7)">医疗<tspan font-size="12.96">/</tspan>健康</text>
<rect x="269.87" y="682.70" width="12.40" height="5.00" fill="#0095ff" />
<text x="276.1" y="668.3" font-size="12" fill="#666666" text-anchor="middle" dominant-baseline="central"><tspan font-size="12.96">0%</tspan></text>
<text x="276.4" y="701.7" font-size="12" fill="#666666" text-anchor="end" dominant-baseline="central" transform="rotate(-45 276.4 701.7)">公共事业<tspan font-size="12.96" letter-spacing="0.15">...</tspan></text>
<rect x="302.16" y="672.56" width="12.40" height="15.14" fill="#0095ff" />
<text x="306.1" y="658.2" font-size="12" fill="#666666" text-anchor="middle" dominant-baseline="central"><tspan font-size="12.96">6.78%</tspan></text>
<text x="308.7" y="701.7" font-size="12" fill="#666666" text-anchor="end" dominant-baseline="central" transform="rotate(-45 308.7 701.7)">其他</text>
</g>
<g clip-path="url(#cp4)">
<text x="1018.5" y="533.5" font-size="12.4" fill="#3a3a3a" dominant-baseline="central" letter-spacing="0.42"><tspan font-size="13.39">4.</tspan>您认为高职毕业生相对于本科毕业生的优势是什么<tspan font-size="13.39">?</tspan></text>
<path d="M1141.80,659.90 L1141.80,619.90 A40,40 0 0 1 1180.82,651.11 Z" fill="#0095ff" stroke="#ffffff" stroke-width="0.6" stroke-linejoin="round"/>
<path d="M1141.80,659.90 L1180.82,651.11 A40,40 0 0 1 1139.92,699.86 Z" fill="#fdc23e" stroke="#ffffff" stroke-width="0.6" stroke-linejoin="round"/>
<path d="M1141.80,659.90 L1139.92,699.86 A40,40 0 0 1 1104.41,674.10 Z" fill="#3bd1c9" stroke="#ffffff" stroke-width="0.6" stroke-linejoin="round"/>
<path d="M1141.80,659.90 L1104.41,674.10 A40,40 0 0 1 1138.04,620.08 Z" fill="#00bfff" stroke="#ffffff" stroke-width="0.6" stroke-linejoin="round"/>
<path d="M1141.80,659.90 L1138.04,620.08 A40,40 0 0 1 1141.80,619.90 Z" fill="#ff7a45" stroke="#ffffff" stroke-width="0.6" stroke-linejoin="round"/>
<path d="M1167.5,629.5 Q1178.0,613.0 1190.0,606.5" fill="none" stroke="#0095ff" stroke-width="1"/>
<path d="M1173.0,686.5 Q1190.0,705.0 1200.5,706.5" fill="none" stroke="#fdc23e" stroke-width="1"/>
<path d="M1119.5,693.5 Q1105.0,712.0 1096.0,716.5" fill="none" stroke="#3bd1c9" stroke-width="1"/>
<path d="M1106.5,639.5 Q1085.0,626.0 1077.5,623.5" fill="none" stroke="#00bfff" stroke-width="1"/>
<path d="M1138.5,620.0 Q1138.0,593.0 1133.5,589.5" fill="none" stroke="#ff7a45" stroke-width="1"/>
<text x="1201.5" y="610.0" font-size="12.6" fill="#666666" dominant-baseline="central">实践经验更加<tspan font-size="13.61" letter-spacing="0.15">...</tspan></text>
<text x="1210.0" y="709.4" font-size="12.6" fill="#666666" dominant-baseline="central">技术技能更<tspan font-size="13.61" letter-spacing="0.15">...</tspan></text>
<text x="995.8" y="720.3" font-size="12.6" fill="#666666" dominant-baseline="central">更快适应工作<tspan font-size="13.61" letter-spacing="0.15">...</tspan></text>
<text x="995.8" y="628.5" font-size="12.6" fill="#666666" dominant-baseline="central">较低的薪<tspan font-size="13.61" letter-spacing="0.15">...</tspan></text>
<text x="1052.3" y="594.0" font-size="12.6" fill="#666666" dominant-baseline="central">其他<tspan font-size="13.61">: 3.39%</tspan></text>
</g>
<g clip-path="url(#cp5)">
<text x="56.0" y="803.4" font-size="12.4" fill="#3a3a3a" dominant-baseline="central" letter-spacing="0.42"><tspan font-size="13.39">5.</tspan>对于高职毕业生的招聘要求，您更看重以下哪些方面<tspan font-size="13.39">?</tspan></text>
<line x1="73.00" y1="843.90" x2="73.00" y2="957.30" stroke="#dfe4f0" stroke-width="1"/>
<line x1="73.00" y1="957.30" x2="324.50" y2="957.30" stroke="#dfe4f0" stroke-width="1"/>
<text x="59.0" y="957.3" font-size="12" fill="#666666" text-anchor="end" dominant-baseline="central"><tspan font-size="12.96">0</tspan></text>
<text x="59.0" y="900.6" font-size="12" fill="#666666" text-anchor="end" dominant-baseline="central"><tspan font-size="12.96">50</tspan></text>
<text x="59.0" y="843.9" font-size="12" fill="#666666" text-anchor="end" dominant-baseline="central"><tspan font-size="12.96">100</tspan></text>
<rect x="85.96" y="878.02" width="16.00" height="79.28" fill="#0095ff" />
<text x="95.0" y="863.6" font-size="12" fill="#666666" text-anchor="middle" dominant-baseline="central"><tspan font-size="12.96">71.19%</tspan></text>
<text x="94.3" y="971.3" font-size="12" fill="#666666" text-anchor="end" dominant-baseline="central" transform="rotate(-45 94.3 971.3)">专业知识<tspan font-size="12.96" letter-spacing="0.15">...</tspan></text>
<rect x="127.88" y="904.45" width="16.00" height="52.85" fill="#0095ff" />
<text x="135.9" y="890.0" font-size="12" fill="#666666" text-anchor="middle" dominant-baseline="central"><tspan font-size="12.96">47.46%</tspan></text>
<text x="136.2" y="971.3" font-size="12" fill="#666666" text-anchor="end" dominant-baseline="central" transform="rotate(-45 136.2 971.3)">实习<tspan font-size="12.96">/</tspan>工<tspan font-size="12.96" letter-spacing="0.15">...</tspan></text>
<rect x="169.79" y="896.90" width="16.00" height="60.40" fill="#0095ff" />
<text x="177.8" y="882.5" font-size="12" fill="#666666" text-anchor="middle" dominant-baseline="central"><tspan font-size="12.96">54.24%</tspan></text>
<text x="178.1" y="971.3" font-size="12" fill="#666666" text-anchor="end" dominant-baseline="central" transform="rotate(-45 178.1 971.3)">团队合作<tspan font-size="12.96" letter-spacing="0.15">...</tspan></text>
<rect x="211.71" y="878.02" width="16.00" height="79.28" fill="#0095ff" />
<text x="219.7" y="863.6" font-size="12" fill="#666666" text-anchor="middle" dominant-baseline="central"><tspan font-size="12.96">71.19%</tspan></text>
<text x="220.0" y="971.3" font-size="12" fill="#666666" text-anchor="end" dominant-baseline="central" transform="rotate(-45 220.0 971.3)">学习能力<tspan font-size="12.96" letter-spacing="0.15">...</tspan></text>
<rect x="253.62" y="900.67" width="16.00" height="56.63" fill="#0095ff" />
<text x="261.6" y="886.3" font-size="12" fill="#666666" text-anchor="middle" dominant-baseline="central"><tspan font-size="12.96">50.85%</tspan></text>
<text x="261.9" y="971.3" font-size="12" fill="#666666" text-anchor="end" dominant-baseline="central" transform="rotate(-45 261.9 971.3)">创新思维<tspan font-size="12.96" letter-spacing="0.15">...</tspan></text>
<rect x="295.54" y="953.52" width="16.00" height="3.78" fill="#0095ff" />
<text x="303.5" y="939.1" font-size="12" fill="#666666" text-anchor="middle" dominant-baseline="central"><tspan font-size="12.96">3.39%</tspan></text>
<text x="303.8" y="971.3" font-size="12" fill="#666666" text-anchor="end" dominant-baseline="central" transform="rotate(-45 303.8 971.3)">其他</text>
</g>
<g clip-path="url(#cp6)">
<text x="377.0" y="803.4" font-size="12.4" fill="#3a3a3a" dominant-baseline="central" letter-spacing="0.42"><tspan font-size="13.39">6.</tspan>您是否愿意为高职毕业生提供培训机会，以适应贵单位的需求<tspan font-size="13.39">?</tspan></text>
<line x1="410.80" y1="843.90" x2="410.80" y2="995.00" stroke="#dfe4f0" stroke-width="1"/>
<line x1="410.80" y1="995.00" x2="645.50" y2="995.00" stroke="#dfe4f0" stroke-width="1"/>
<text x="410.8" y="1009.2" font-size="12" fill="#666666" text-anchor="middle" dominant-baseline="central"><tspan font-size="12.96">0</tspan></text>
<text x="469.5" y="1009.2" font-size="12" fill="#666666" text-anchor="middle" dominant-baseline="central"><tspan font-size="12.96">20</tspan></text>
<text x="528.1" y="1009.2" font-size="12" fill="#666666" text-anchor="middle" dominant-baseline="central"><tspan font-size="12.96">40</tspan></text>
<text x="586.8" y="1009.2" font-size="12" fill="#666666" text-anchor="middle" dominant-baseline="central"><tspan font-size="12.96">60</tspan></text>
<text x="638.0" y="1009.2" font-size="12" fill="#666666" text-anchor="middle" dominant-baseline="central"><tspan font-size="12.96">80</tspan></text>
<rect x="410.80" y="860.38" width="188.96" height="17.40" fill="#0095ff" />
<text x="396.8" y="869.1" font-size="12" fill="#666666" text-anchor="end" dominant-baseline="central">是</text>
<text x="594.8" y="869.1" font-size="12" fill="#555555" text-anchor="end" dominant-baseline="central" stroke="#ffffff" stroke-width="2.2" paint-order="stroke" stroke-linejoin="round"><tspan font-size="12.96">64.41%</tspan></text>
<rect x="410.80" y="910.75" width="24.85" height="17.40" fill="#0095ff" />
<text x="396.8" y="919.5" font-size="12" fill="#666666" text-anchor="end" dominant-baseline="central">否</text>
<text x="440.6" y="919.5" font-size="12" fill="#666666" dominant-baseline="central"><tspan font-size="12.96">8.47%</tspan></text>
<rect x="410.80" y="961.12" width="79.56" height="17.40" fill="#0095ff" />
<text x="396.8" y="969.8" font-size="12" fill="#666666" text-anchor="end" dominant-baseline="central">不确定</text>
<text x="495.4" y="969.8" font-size="12" fill="#666666" dominant-baseline="central"><tspan font-size="12.96">27.12%</tspan></text>
</g>
<g clip-path="url(#cp7)">
<text x="697.5" y="803.4" font-size="12.4" fill="#3a3a3a" dominant-baseline="central" letter-spacing="0.42"><tspan font-size="13.39">7.</tspan>您是否认为高职院校应该进一步加强与用人单位的合作<tspan font-size="13.39">?</tspan></text>
<path d="M834.60,933.90 L834.60,887.60 A46.3,46.3 0 1 1 803.20,899.87 Z" fill="#0095ff" stroke="#ffffff" stroke-width="0.6" stroke-linejoin="round"/>
<path d="M834.60,933.90 L803.20,899.87 A46.3,46.3 0 0 1 811.11,894.00 Z" fill="#fdc23e" stroke="#ffffff" stroke-width="0.6" stroke-linejoin="round"/>
<path d="M834.60,933.90 L811.11,894.00 A46.3,46.3 0 0 1 834.60,887.60 Z" fill="#3bd1c9" stroke="#ffffff" stroke-width="0.6" stroke-linejoin="round"/>
<path d="M852.5,976.5 Q860.0,997.0 867.0,1004.0" fill="none" stroke="#0095ff" stroke-width="1"/>
<path d="M808.5,896.0 Q800.0,884.0 770.0,884.0" fill="none" stroke="#fdc23e" stroke-width="1"/>
<path d="M822.0,889.0 Q816.0,865.0 809.5,857.5" fill="none" stroke="#3bd1c9" stroke-width="1"/>
<text x="877.6" y="1008.3" font-size="12.6" fill="#666666" dominant-baseline="central">是<tspan font-size="13.61">: 88.14%</tspan></text>
<text x="703.9" y="887.0" font-size="12.6" fill="#666666" dominant-baseline="central">否<tspan font-size="13.61">: 3.39%</tspan></text>
<text x="715.5" y="860.2" font-size="12.6" fill="#666666" dominant-baseline="central">不确定<tspan font-size="13.61">: 8.47%</tspan></text>
</g>
<g clip-path="url(#cp8)">
<text x="1018.5" y="803.4" font-size="12.4" fill="#3a3a3a" dominant-baseline="central" letter-spacing="0.42"><tspan font-size="13.39">8.</tspan>您是否与高职院校建立了合作关系或参与校企合作<tspan font-size="13.39">?</tspan></text>
<line x1="1028.80" y1="843.90" x2="1028.80" y2="993.80" stroke="#dfe4f0" stroke-width="1"/>
<line x1="1028.80" y1="993.80" x2="1287.00" y2="993.80" stroke="#dfe4f0" stroke-width="1"/>
<text x="1014.0" y="993.8" font-size="12" fill="#666666" text-anchor="end" dominant-baseline="central"><tspan font-size="12.96">0</tspan></text>
<text x="1014.0" y="943.8" font-size="12" fill="#666666" text-anchor="end" dominant-baseline="central"><tspan font-size="12.96">25</tspan></text>
<text x="1014.0" y="893.9" font-size="12" fill="#666666" text-anchor="end" dominant-baseline="central"><tspan font-size="12.96">50</tspan></text>
<text x="1014.0" y="843.9" font-size="12" fill="#666666" text-anchor="end" dominant-baseline="central"><tspan font-size="12.96">75</tspan></text>
<rect x="1070.05" y="903.26" width="46.50" height="90.54" fill="#0095ff" />
<text x="1093.3" y="888.9" font-size="12" fill="#666666" text-anchor="middle" dominant-baseline="central"><tspan font-size="12.96">45.76%</tspan></text>
<text x="1093.3" y="1010.2" font-size="12" fill="#666666" text-anchor="middle" dominant-baseline="central">是，能否提供合作对<tspan font-size="12.96" letter-spacing="0.15">...</tspan></text>
<rect x="1199.35" y="886.48" width="46.50" height="107.32" fill="#0095ff" />
<text x="1222.6" y="872.1" font-size="12" fill="#666666" text-anchor="middle" dominant-baseline="central"><tspan font-size="12.96">54.24%</tspan></text>
<text x="1222.6" y="1010.2" font-size="12" fill="#666666" text-anchor="middle" dominant-baseline="central">否</text>
</g>
<g clip-path="url(#cp9)">
<text x="56.0" y="1073.2" font-size="12.4" fill="#3a3a3a" dominant-baseline="central" letter-spacing="0.42"><tspan font-size="13.39">9.</tspan>您对高职院校的教育质量和毕业生素质是否满意<tspan font-size="13.39">?</tspan></text>
<line x1="102.10" y1="1113.90" x2="102.10" y2="1263.80" stroke="#dfe4f0" stroke-width="1"/>
<line x1="102.10" y1="1263.80" x2="324.50" y2="1263.80" stroke="#dfe4f0" stroke-width="1"/>
<text x="102.1" y="1278.0" font-size="12" fill="#666666" text-anchor="middle" dominant-baseline="central"><tspan font-size="12.96">0</tspan></text>
<text x="157.7" y="1278.0" font-size="12" fill="#666666" text-anchor="middle" dominant-baseline="central"><tspan font-size="12.96">10</tspan></text>
<text x="213.3" y="1278.0" font-size="12" fill="#666666" text-anchor="middle" dominant-baseline="central"><tspan font-size="12.96">20</tspan></text>
<text x="268.9" y="1278.0" font-size="12" fill="#666666" text-anchor="middle" dominant-baseline="central"><tspan font-size="12.96">30</tspan></text>
<text x="318.0" y="1278.0" font-size="12" fill="#666666" text-anchor="middle" dominant-baseline="central"><tspan font-size="12.96">40</tspan></text>
<rect x="102.10" y="1123.39" width="103.64" height="11.00" fill="#0095ff" />
<text x="88.1" y="1128.9" font-size="12" fill="#666666" text-anchor="end" dominant-baseline="central">非常满意</text>
<text x="210.7" y="1128.9" font-size="12" fill="#666666" dominant-baseline="central"><tspan font-size="12.96">18.64%</tspan></text>
<rect x="102.10" y="1153.37" width="197.88" height="11.00" fill="#0095ff" />
<text x="88.1" y="1158.9" font-size="12" fill="#666666" text-anchor="end" dominant-baseline="central">比较满意</text>
<text x="295.0" y="1158.9" font-size="12" fill="#555555" text-anchor="end" dominant-baseline="central" stroke="#ffffff" stroke-width="2.2" paint-order="stroke" stroke-linejoin="round"><tspan font-size="12.96">35.59%</tspan></text>
<rect x="102.10" y="1183.35" width="207.33" height="11.00" fill="#0095ff" />
<text x="88.1" y="1188.8" font-size="12" fill="#666666" text-anchor="end" dominant-baseline="central">一般</text>
<text x="304.4" y="1188.8" font-size="12" fill="#555555" text-anchor="end" dominant-baseline="central" stroke="#ffffff" stroke-width="2.2" paint-order="stroke" stroke-linejoin="round"><tspan font-size="12.96">37.29%</tspan></text>
<rect x="102.10" y="1213.33" width="37.70" height="11.00" fill="#0095ff" />
<text x="88.1" y="1218.8" font-size="12" fill="#666666" text-anchor="end" dominant-baseline="central">不太满意</text>
<text x="144.8" y="1218.8" font-size="12" fill="#666666" dominant-baseline="central"><tspan font-size="12.96">6.78%</tspan></text>
<rect x="102.10" y="1243.31" width="9.40" height="11.00" fill="#0095ff" />
<text x="88.1" y="1248.8" font-size="12" fill="#666666" text-anchor="end" dominant-baseline="central">不满意</text>
<text x="116.5" y="1248.8" font-size="12" fill="#666666" dominant-baseline="central"><tspan font-size="12.96">1.69%</tspan></text>
</g>
<g clip-path="url(#cp10)">
<text x="377.0" y="1073.2" font-size="12.4" fill="#3a3a3a" dominant-baseline="central" letter-spacing="0.42"><tspan font-size="13.39">10.</tspan>您觉得高职院校大数据类专业毕业生哪些方面的能力需要加强<tspan font-size="13.39">?</tspan></text>
<path d="M498.00,1201.10 L498.00,1161.10 A40,40 0 0 1 535.82,1188.08 Z" fill="#0095ff" stroke="#ffffff" stroke-width="0.6" stroke-linejoin="round"/>
<path d="M498.00,1201.10 L535.82,1188.08 A40,40 0 0 1 530.61,1224.27 Z" fill="#fdc23e" stroke="#ffffff" stroke-width="0.6" stroke-linejoin="round"/>
<path d="M498.00,1201.10 L530.61,1224.27 A40,40 0 0 1 510.56,1239.08 Z" fill="#3bd1c9" stroke="#ffffff" stroke-width="0.6" stroke-linejoin="round"/>
<path d="M498.00,1201.10 L510.56,1239.08 A40,40 0 0 1 481.73,1237.64 Z" fill="#00bfff" stroke="#ffffff" stroke-width="0.6" stroke-linejoin="round"/>
<path d="M498.00,1201.10 L481.73,1237.64 A40,40 0 0 1 458.10,1203.89 Z" fill="#ff7a45" stroke="#ffffff" stroke-width="0.6" stroke-linejoin="round"/>
<path d="M498.00,1201.10 L458.10,1203.89 A40,40 0 0 1 476.39,1167.44 Z" fill="#73d13d" stroke="#ffffff" stroke-width="0.6" stroke-linejoin="round"/>
<path d="M498.00,1201.10 L476.39,1167.44 A40,40 0 0 1 498.00,1161.10 Z" fill="#475669" stroke="#ffffff" stroke-width="0.6" stroke-linejoin="round"/>
<path d="M521.5,1168.5 Q534.0,1150.0 543.5,1144.0" fill="none" stroke="#0095ff" stroke-width="1"/>
<path d="M537.5,1208.0 Q560.0,1211.0 572.0,1211.5" fill="none" stroke="#fdc23e" stroke-width="1"/>
<path d="M523.5,1233.0 Q535.0,1251.0 545.0,1257.0" fill="none" stroke="#3bd1c9" stroke-width="1"/>
<path d="M494.5,1241.0 Q494.0,1262.0 490.0,1271.0" fill="none" stroke="#00bfff" stroke-width="1"/>
<path d="M462.0,1218.0 Q462.0,1230.0 428.5,1228.5" fill="none" stroke="#ff7a45" stroke-width="1"/>
<path d="M461.0,1183.5 Q445.0,1175.0 428.0,1174.0" fill="none" stroke="#73d13d" stroke-width="1"/>
<path d="M485.5,1163.0 Q481.0,1138.0 474.5,1130.5" fill="none" stroke="#475669" stroke-width="1"/>
<text x="553.8" y="1147.7" font-size="12.6" fill="#666666" dominant-baseline="central">数据分析能力<tspan font-size="13.61">:</tspan></text>
<text x="553.8" y="1163.5" font-size="12.6" fill="#666666" dominant-baseline="central"><tspan font-size="13.61">50.85%</tspan></text>
<text x="582.4" y="1215.0" font-size="12.6" fill="#666666" dominant-baseline="central">数据挖掘<tspan font-size="13.61" letter-spacing="0.15">...</tspan></text>
<text x="554.5" y="1260.4" font-size="12.6" fill="#666666" dominant-baseline="central">编程和算法能<tspan font-size="13.61" letter-spacing="0.15">...</tspan></text>
<text x="385.7" y="1274.4" font-size="12.6" fill="#666666" dominant-baseline="central">数据可视化能力<tspan font-size="13.61">:</tspan></text>
<text x="385.7" y="1290.2" font-size="12.6" fill="#666666" dominant-baseline="central"><tspan font-size="13.61">30.51%</tspan></text>
<text x="353.8" y="1231.0" font-size="12.6" fill="#666666" dominant-baseline="central">团队合作<tspan font-size="13.61" letter-spacing="0.15">...</tspan></text>
<text x="353.8" y="1177.4" font-size="12.6" fill="#666666" dominant-baseline="central">学习能力<tspan font-size="13.61" letter-spacing="0.15">...</tspan></text>
<text x="353.8" y="1133.7" font-size="12.6" fill="#666666" dominant-baseline="central">创新思维和问题<tspan font-size="13.61" letter-spacing="0.15">...</tspan></text>
</g>
<g clip-path="url(#cp11)">
<text x="697.5" y="1073.2" font-size="12.4" fill="#3a3a3a" dominant-baseline="central" letter-spacing="0.42"><tspan font-size="13.39">11.</tspan>您觉得高职院校大数据类专业毕业生哪些方面的能力比较突出<tspan font-size="13.39">?</tspan></text>
<line x1="707.80" y1="1113.90" x2="707.80" y2="1227.40" stroke="#dfe4f0" stroke-width="1"/>
<line x1="707.80" y1="1227.40" x2="966.50" y2="1227.40" stroke="#dfe4f0" stroke-width="1"/>
<text x="694.0" y="1227.4" font-size="12" fill="#666666" text-anchor="end" dominant-baseline="central"><tspan font-size="12.96">0</tspan></text>
<text x="694.0" y="1189.6" font-size="12" fill="#666666" text-anchor="end" dominant-baseline="central"><tspan font-size="12.96">25</tspan></text>
<text x="694.0" y="1151.7" font-size="12" fill="#666666" text-anchor="end" dominant-baseline="central"><tspan font-size="12.96">50</tspan></text>
<text x="694.0" y="1113.9" font-size="12" fill="#666666" text-anchor="end" dominant-baseline="central"><tspan font-size="12.96">75</tspan></text>
<rect x="719.28" y="1166.95" width="14.00" height="60.45" fill="#0095ff" />
<text x="729.8" y="1152.5" font-size="12" fill="#666666" text-anchor="middle" dominant-baseline="central"><tspan font-size="12.96">40.68%</tspan></text>
<text x="726.6" y="1241.4" font-size="12" fill="#666666" text-anchor="end" dominant-baseline="central" transform="rotate(-45 726.6 1241.4)">数据分析能力</text>
<rect x="756.24" y="1149.32" width="14.00" height="78.08" fill="#0095ff" />
<text x="763.2" y="1134.9" font-size="12" fill="#666666" text-anchor="middle" dominant-baseline="central"><tspan font-size="12.96">52.54%</tspan></text>
<text x="763.5" y="1241.4" font-size="12" fill="#666666" text-anchor="end" dominant-baseline="central" transform="rotate(-45 763.5 1241.4)">数据挖掘<tspan font-size="12.96" letter-spacing="0.15">...</tspan></text>
<rect x="793.19" y="1146.79" width="14.00" height="80.61" fill="#0095ff" />
<text x="800.2" y="1132.4" font-size="12" fill="#666666" text-anchor="middle" dominant-baseline="central"><tspan font-size="12.96">54.24%</tspan></text>
<text x="800.5" y="1241.4" font-size="12" fill="#666666" text-anchor="end" dominant-baseline="central" transform="rotate(-45 800.5 1241.4)">编程和算<tspan font-size="12.96" letter-spacing="0.15">...</tspan></text>
<rect x="830.15" y="1177.02" width="14.00" height="50.38" fill="#0095ff" />
<text x="837.1" y="1162.6" font-size="12" fill="#666666" text-anchor="middle" dominant-baseline="central"><tspan font-size="12.96">33.9%</tspan></text>
<text x="837.4" y="1241.4" font-size="12" fill="#666666" text-anchor="end" dominant-baseline="central" transform="rotate(-45 837.4 1241.4)">数据可视<tspan font-size="12.96" letter-spacing="0.15">...</tspan></text>
<rect x="867.11" y="1202.21" width="14.00" height="25.19" fill="#0095ff" />
<text x="874.1" y="1187.8" font-size="12" fill="#666666" text-anchor="middle" dominant-baseline="central"><tspan font-size="12.96">16.95%</tspan></text>
<text x="874.4" y="1241.4" font-size="12" fill="#666666" text-anchor="end" dominant-baseline="central" transform="rotate(-45 874.4 1241.4)">团队合作<tspan font-size="12.96" letter-spacing="0.15">...</tspan></text>
<rect x="904.06" y="1177.02" width="14.00" height="50.38" fill="#0095ff" />
<text x="911.1" y="1162.6" font-size="12" fill="#666666" text-anchor="middle" dominant-baseline="central"><tspan font-size="12.96">33.9%</tspan></text>
<text x="911.4" y="1241.4" font-size="12" fill="#666666" text-anchor="end" dominant-baseline="central" transform="rotate(-45 911.4 1241.4)">学习能力<tspan font-size="12.96" letter-spacing="0.15">...</tspan></text>
<rect x="941.02" y="1161.91" width="14.00" height="65.49" fill="#0095ff" />
<text x="944.5" y="1147.5" font-size="12" fill="#666666" text-anchor="middle" dominant-baseline="central"><tspan font-size="12.96">44.07%</tspan></text>
<text x="948.3" y="1241.4" font-size="12" fill="#666666" text-anchor="end" dominant-baseline="central" transform="rotate(-45 948.3 1241.4)">创新思维<tspan font-size="12.96" letter-spacing="0.15">...</tspan></text>
</g>
<g clip-path="url(#cp12)">
<text x="1018.5" y="1073.2" font-size="12.4" fill="#3a3a3a" dominant-baseline="central" letter-spacing="0.42"><tspan font-size="13.39">12.</tspan>您认为大数据、人工智能类专业学生需要掌握哪些技能<tspan font-size="13.39">?</tspan></text>
<line x1="1149.60" y1="1115.80" x2="1149.60" y2="1515.00" stroke="#dfe4f0" stroke-width="1"/>
<line x1="1149.60" y1="1515.00" x2="1288.00" y2="1515.00" stroke="#dfe4f0" stroke-width="1"/>
<text x="1149.6" y="1529.2" font-size="12" fill="#666666" text-anchor="middle" dominant-baseline="central"><tspan font-size="12.96">0</tspan></text>
<text x="1218.8" y="1529.2" font-size="12" fill="#666666" text-anchor="middle" dominant-baseline="central"><tspan font-size="12.96">50</tspan></text>
<text x="1278.0" y="1529.2" font-size="12" fill="#666666" text-anchor="middle" dominant-baseline="central"><tspan font-size="12.96">100</tspan></text>
<rect x="1149.60" y="1129.18" width="117.29" height="15.60" fill="#0095ff" />
<text x="1135.6" y="1137.0" font-size="12" fill="#666666" text-anchor="end" dominant-baseline="central">数据分析和数据挖掘技术</text>
<text x="1261.9" y="1137.0" font-size="12" fill="#555555" text-anchor="end" dominant-baseline="central" stroke="#ffffff" stroke-width="2.2" paint-order="stroke" stroke-linejoin="round"><tspan font-size="12.96">84.75%</tspan></text>
<rect x="1149.60" y="1173.53" width="103.22" height="15.60" fill="#0095ff" />
<text x="1135.6" y="1181.3" font-size="12" fill="#666666" text-anchor="end" dominant-baseline="central">机器学习和深度学习算法</text>
<text x="1247.8" y="1181.3" font-size="12" fill="#555555" text-anchor="end" dominant-baseline="central" stroke="#ffffff" stroke-width="2.2" paint-order="stroke" stroke-linejoin="round"><tspan font-size="12.96">74.58%</tspan></text>
<rect x="1149.60" y="1217.89" width="89.14" height="15.60" fill="#0095ff" />
<text x="1135.6" y="1225.7" font-size="12" fill="#666666" text-anchor="end" dominant-baseline="central">统计学和概率论基础</text>
<text x="1233.7" y="1225.7" font-size="12" fill="#555555" text-anchor="end" dominant-baseline="central" stroke="#ffffff" stroke-width="2.2" paint-order="stroke" stroke-linejoin="round"><tspan font-size="12.96">64.41%</tspan></text>
<rect x="1149.60" y="1262.24" width="100.87" height="15.60" fill="#0095ff" />
<text x="1135.6" y="1270.0" font-size="12" fill="#666666" text-anchor="end" dominant-baseline="central">编程和软件开发</text>
<text x="1245.5" y="1270.0" font-size="12" fill="#555555" text-anchor="end" dominant-baseline="central" stroke="#ffffff" stroke-width="2.2" paint-order="stroke" stroke-linejoin="round"><tspan font-size="12.96">72.88%</tspan></text>
<rect x="1149.60" y="1306.60" width="89.14" height="15.60" fill="#0095ff" />
<text x="1135.6" y="1314.4" font-size="12" fill="#666666" text-anchor="end" dominant-baseline="central">数据库管理和数据处理</text>
<text x="1233.7" y="1314.4" font-size="12" fill="#555555" text-anchor="end" dominant-baseline="central" stroke="#ffffff" stroke-width="2.2" paint-order="stroke" stroke-linejoin="round"><tspan font-size="12.96">64.41%</tspan></text>
<rect x="1149.60" y="1350.96" width="96.17" height="15.60" fill="#0095ff" />
<text x="1135.6" y="1358.8" font-size="12" fill="#666666" text-anchor="end" dominant-baseline="central">大数据平台和工具使用</text>
<text x="1240.8" y="1358.8" font-size="12" fill="#555555" text-anchor="end" dominant-baseline="central" stroke="#ffffff" stroke-width="2.2" paint-order="stroke" stroke-linejoin="round"><tspan font-size="12.96">69.49%</tspan></text>
<rect x="1149.60" y="1395.31" width="91.48" height="15.60" fill="#0095ff" />
<text x="1135.6" y="1403.1" font-size="12" fill="#666666" text-anchor="end" dominant-baseline="central">数据可视化和交互设计</text>
<text x="1246.1" y="1403.1" font-size="12" fill="#666666" dominant-baseline="central"><tspan font-size="12.96">66.1%</tspan></text>
<rect x="1149.60" y="1439.67" width="75.07" height="15.60" fill="#0095ff" />
<text x="1135.6" y="1447.5" font-size="12" fill="#666666" text-anchor="end" dominant-baseline="central">沟通与团队协作能力</text>
<text x="1229.7" y="1447.5" font-size="12" fill="#666666" dominant-baseline="central"><tspan font-size="12.96">54.24%</tspan></text>
<rect x="1149.60" y="1484.02" width="7.03" height="15.60" fill="#0095ff" />
<text x="1135.6" y="1491.8" font-size="12" fill="#666666" text-anchor="end" dominant-baseline="central">其他</text>
<text x="1161.6" y="1491.8" font-size="12" fill="#666666" dominant-baseline="central"><tspan font-size="12.96">5.08%</tspan></text>
</g>
<g clip-path="url(#cp13)">
<text x="56.0" y="1343.1" font-size="12.4" fill="#3a3a3a" dominant-baseline="central" letter-spacing="0.42"><tspan font-size="13.39">13.</tspan>您是否愿意参与高职院校的就业指导和职业规划活动<tspan font-size="13.39">?</tspan></text>
<path d="M190.30,1477.70 L190.30,1437.70 A40,40 0 1 1 152.67,1491.27 Z" fill="#0095ff" stroke="#ffffff" stroke-width="0.6" stroke-linejoin="round"/>
<path d="M190.30,1477.70 L152.67,1491.27 A40,40 0 0 1 155.31,1458.32 Z" fill="#fdc23e" stroke="#ffffff" stroke-width="0.6" stroke-linejoin="round"/>
<path d="M190.30,1477.70 L155.31,1458.32 A40,40 0 0 1 190.30,1437.70 Z" fill="#3bd1c9" stroke="#ffffff" stroke-width="0.6" stroke-linejoin="round"/>
<path d="M224.5,1501.0 Q240.0,1512.0 251.0,1517.0" fill="none" stroke="#0095ff" stroke-width="1"/>
<path d="M150.5,1474.5 Q130.0,1473.0 115.0,1472.0" fill="none" stroke="#fdc23e" stroke-width="1"/>
<path d="M170.5,1443.0 Q162.0,1425.0 151.5,1417.0" fill="none" stroke="#3bd1c9" stroke-width="1"/>
<text x="262.3" y="1521.0" font-size="12.6" fill="#666666" dominant-baseline="central">是<tspan font-size="13.61">: 69.4</tspan><tspan font-size="13.61" letter-spacing="0.15">...</tspan></text>
<text x="32.8" y="1475.0" font-size="12.6" fill="#666666" dominant-baseline="central">否<tspan font-size="13.61">: 13.56%</tspan></text>
<text x="47.5" y="1420.4" font-size="12.6" fill="#666666" dominant-baseline="central">不确定<tspan font-size="13.61">: 16.95%</tspan></text>
</g>
<g clip-path="url(#cp14)">
<text x="377.0" y="1343.1" font-size="12.4" fill="#3a3a3a" dominant-baseline="central" letter-spacing="0.42"><tspan font-size="13.39">14.</tspan>请您从以下选项中选择您认为当前与大数据及人工智能专业有关的国家及行业规划的主要方向</text>
<line x1="394.00" y1="1384.20" x2="394.00" y2="1496.70" stroke="#dfe4f0" stroke-width="1"/>
<line x1="394.00" y1="1496.70" x2="965.00" y2="1496.70" stroke="#dfe4f0" stroke-width="1"/>
<text x="379.5" y="1496.7" font-size="12" fill="#666666" text-anchor="end" dominant-baseline="central"><tspan font-size="12.96">0</tspan></text>
<text x="379.5" y="1440.5" font-size="12" fill="#666666" text-anchor="end" dominant-baseline="central"><tspan font-size="12.96">50</tspan></text>
<text x="379.5" y="1384.2" font-size="12" fill="#666666" text-anchor="end" dominant-baseline="central"><tspan font-size="12.96">100</tspan></text>
<path d="M422.55,1414.71 L479.65,1418.52 L536.75,1426.15 L593.85,1431.87 L650.95,1441.41 L708.05,1431.87 L765.15,1424.24 L822.25,1437.59 L879.35,1441.41 L936.45,1492.89" fill="none" stroke="#0095ff" stroke-width="2.4" stroke-linejoin="round"/>
<circle cx="422.55" cy="1414.71" r="3.8" fill="#0095ff"/>
<text x="422.6" y="1399.8" font-size="12" fill="#666666" text-anchor="middle" dominant-baseline="central"><tspan font-size="12.96">72.88%</tspan></text>
<text x="422.9" y="1509.6" font-size="12" fill="#666666" text-anchor="end" dominant-baseline="central" transform="rotate(-45 422.9 1509.6)">数据安全<tspan font-size="12.96" letter-spacing="0.15">...</tspan></text>
<circle cx="479.65" cy="1418.52" r="3.8" fill="#0095ff"/>
<text x="479.6" y="1403.6" font-size="12" fill="#666666" text-anchor="middle" dominant-baseline="central"><tspan font-size="12.96">69.49%</tspan></text>
<text x="480.0" y="1509.6" font-size="12" fill="#666666" text-anchor="end" dominant-baseline="central" transform="rotate(-45 480.0 1509.6)">人工智能<tspan font-size="12.96" letter-spacing="0.15">...</tspan></text>
<circle cx="536.75" cy="1426.15" r="3.8" fill="#0095ff"/>
<text x="536.8" y="1411.3" font-size="12" fill="#666666" text-anchor="middle" dominant-baseline="central"><tspan font-size="12.96">62.71%</tspan></text>
<text x="537.1" y="1509.6" font-size="12" fill="#666666" text-anchor="end" dominant-baseline="central" transform="rotate(-45 537.1 1509.6)">大数据治<tspan font-size="12.96" letter-spacing="0.15">...</tspan></text>
<circle cx="593.85" cy="1431.87" r="3.8" fill="#0095ff"/>
<text x="593.9" y="1417.0" font-size="12" fill="#666666" text-anchor="middle" dominant-baseline="central"><tspan font-size="12.96">57.63%</tspan></text>
<text x="594.2" y="1509.6" font-size="12" fill="#666666" text-anchor="end" dominant-baseline="central" transform="rotate(-45 594.2 1509.6)">人才培养<tspan font-size="12.96" letter-spacing="0.15">...</tspan></text>
<circle cx="650.95" cy="1441.41" r="3.8" fill="#0095ff"/>
<text x="651.0" y="1426.5" font-size="12" fill="#666666" text-anchor="middle" dominant-baseline="central"><tspan font-size="12.96">49.15%</tspan></text>
<text x="651.4" y="1509.6" font-size="12" fill="#666666" text-anchor="end" dominant-baseline="central" transform="rotate(-45 651.4 1509.6)">数据共享<tspan font-size="12.96" letter-spacing="0.15">...</tspan></text>
<circle cx="708.05" cy="1431.87" r="3.8" fill="#0095ff"/>
<text x="708.0" y="1417.0" font-size="12" fill="#666666" text-anchor="middle" dominant-baseline="central"><tspan font-size="12.96">57.63%</tspan></text>
<text x="708.4" y="1509.6" font-size="12" fill="#666666" text-anchor="end" dominant-baseline="central" transform="rotate(-45 708.4 1509.6)">智能城市<tspan font-size="12.96" letter-spacing="0.15">...</tspan></text>
<circle cx="765.15" cy="1424.24" r="3.8" fill="#0095ff"/>
<text x="765.2" y="1409.3" font-size="12" fill="#666666" text-anchor="middle" dominant-baseline="central"><tspan font-size="12.96">64.41%</tspan></text>
<text x="765.6" y="1509.6" font-size="12" fill="#666666" text-anchor="end" dominant-baseline="central" transform="rotate(-45 765.6 1509.6)">医疗健康<tspan font-size="12.96" letter-spacing="0.15">...</tspan></text>
<circle cx="822.25" cy="1437.59" r="3.8" fill="#0095ff"/>
<text x="822.2" y="1422.7" font-size="12" fill="#666666" text-anchor="middle" dominant-baseline="central"><tspan font-size="12.96">52.54%</tspan></text>
<text x="822.6" y="1509.6" font-size="12" fill="#666666" text-anchor="end" dominant-baseline="central" transform="rotate(-45 822.6 1509.6)">智能交通<tspan font-size="12.96" letter-spacing="0.15">...</tspan></text>
<circle cx="879.35" cy="1441.41" r="3.8" fill="#0095ff"/>
<text x="879.4" y="1426.5" font-size="12" fill="#666666" text-anchor="middle" dominant-baseline="central"><tspan font-size="12.96">49.15%</tspan></text>
<text x="879.8" y="1509.6" font-size="12" fill="#666666" text-anchor="end" dominant-baseline="central" transform="rotate(-45 879.8 1509.6)">金融科技<tspan font-size="12.96" letter-spacing="0.15">...</tspan></text>
<circle cx="936.45" cy="1492.89" r="3.8" fill="#0095ff"/>
<text x="936.5" y="1478.0" font-size="12" fill="#666666" text-anchor="middle" dominant-baseline="central"><tspan font-size="12.96">3.39%</tspan></text>
<text x="936.9" y="1509.6" font-size="12" fill="#666666" text-anchor="end" dominant-baseline="central" transform="rotate(-45 936.9 1509.6)">其他</text>
</g>
<g clip-path="url(#cp15)">
<text x="56.0" y="1613.0" font-size="12.4" fill="#3a3a3a" dominant-baseline="central" letter-spacing="0.42"><tspan font-size="13.39">15.</tspan>您认为大数据从业者行业人员的现状如何</text>
<line x1="73.00" y1="1654.10" x2="73.00" y2="1766.10" stroke="#dfe4f0" stroke-width="1"/>
<line x1="73.00" y1="1766.10" x2="644.00" y2="1766.10" stroke="#dfe4f0" stroke-width="1"/>
<text x="58.5" y="1766.1" font-size="12" fill="#666666" text-anchor="end" dominant-baseline="central"><tspan font-size="12.96">0</tspan></text>
<text x="58.5" y="1710.1" font-size="12" fill="#666666" text-anchor="end" dominant-baseline="central"><tspan font-size="12.96">50</tspan></text>
<text x="58.5" y="1654.1" font-size="12" fill="#666666" text-anchor="end" dominant-baseline="central"><tspan font-size="12.96">100</tspan></text>
<path d="M104.72,1705.35 L168.17,1699.66 L231.61,1711.05 L295.06,1737.63 L358.50,1716.74 L421.94,1716.74 L485.39,1722.44 L548.83,1739.52 L612.28,1764.21" fill="none" stroke="#0095ff" stroke-width="2.4" stroke-linejoin="round"/>
<circle cx="104.72" cy="1705.35" r="3.8" fill="#0095ff"/>
<text x="104.7" y="1690.5" font-size="12" fill="#666666" text-anchor="middle" dominant-baseline="central"><tspan font-size="12.96">54.24%</tspan></text>
<text x="105.1" y="1779.0" font-size="12" fill="#666666" text-anchor="end" dominant-baseline="central" transform="rotate(-45 105.1 1779.0)">需求量大<tspan font-size="12.96" letter-spacing="0.15">...</tspan></text>
<circle cx="168.17" cy="1699.66" r="3.8" fill="#0095ff"/>
<text x="168.2" y="1684.8" font-size="12" fill="#666666" text-anchor="middle" dominant-baseline="central"><tspan font-size="12.96">59.32%</tspan></text>
<text x="168.6" y="1779.0" font-size="12" fill="#666666" text-anchor="end" dominant-baseline="central" transform="rotate(-45 168.6 1779.0)">竞争激烈<tspan font-size="12.96" letter-spacing="0.15">...</tspan></text>
<circle cx="231.61" cy="1711.05" r="3.8" fill="#0095ff"/>
<text x="231.6" y="1696.2" font-size="12" fill="#666666" text-anchor="middle" dominant-baseline="central"><tspan font-size="12.96">49.15%</tspan></text>
<text x="232.0" y="1779.0" font-size="12" fill="#666666" text-anchor="end" dominant-baseline="central" transform="rotate(-45 232.0 1779.0)">薪资待遇<tspan font-size="12.96" letter-spacing="0.15">...</tspan></text>
<circle cx="295.06" cy="1737.63" r="3.8" fill="#0095ff"/>
<text x="295.1" y="1722.7" font-size="12" fill="#666666" text-anchor="middle" dominant-baseline="central"><tspan font-size="12.96">25.42%</tspan></text>
<text x="295.5" y="1779.0" font-size="12" fill="#666666" text-anchor="end" dominant-baseline="central" transform="rotate(-45 295.5 1779.0)">行业专业<tspan font-size="12.96" letter-spacing="0.15">...</tspan></text>
<circle cx="358.50" cy="1716.74" r="3.8" fill="#0095ff"/>
<text x="358.5" y="1701.8" font-size="12" fill="#666666" text-anchor="middle" dominant-baseline="central"><tspan font-size="12.96">44.07%</tspan></text>
<text x="358.9" y="1779.0" font-size="12" fill="#666666" text-anchor="end" dominant-baseline="central" transform="rotate(-45 358.9 1779.0)">行业变化<tspan font-size="12.96" letter-spacing="0.15">...</tspan></text>
<circle cx="421.94" cy="1716.74" r="3.8" fill="#0095ff"/>
<text x="421.9" y="1701.8" font-size="12" fill="#666666" text-anchor="middle" dominant-baseline="central"><tspan font-size="12.96">44.07%</tspan></text>
<text x="422.3" y="1779.0" font-size="12" fill="#666666" text-anchor="end" dominant-baseline="central" transform="rotate(-45 422.3 1779.0)">行业职位<tspan font-size="12.96" letter-spacing="0.15">...</tspan></text>
<circle cx="485.39" cy="1722.44" r="3.8" fill="#0095ff"/>
<text x="485.4" y="1707.5" font-size="12" fill="#666666" text-anchor="middle" dominant-baseline="central"><tspan font-size="12.96">38.98%</tspan></text>
<text x="485.8" y="1779.0" font-size="12" fill="#666666" text-anchor="end" dominant-baseline="central" transform="rotate(-45 485.8 1779.0)">行业重视<tspan font-size="12.96" letter-spacing="0.15">...</tspan></text>
<circle cx="548.83" cy="1739.52" r="3.8" fill="#0095ff"/>
<text x="548.8" y="1724.6" font-size="12" fill="#666666" text-anchor="middle" dominant-baseline="central"><tspan font-size="12.96">23.73%</tspan></text>
<text x="549.2" y="1779.0" font-size="12" fill="#666666" text-anchor="end" dominant-baseline="central" transform="rotate(-45 549.2 1779.0)">行业发展<tspan font-size="12.96" letter-spacing="0.15">...</tspan></text>
<circle cx="612.28" cy="1764.21" r="3.8" fill="#0095ff"/>
<text x="612.3" y="1749.3" font-size="12" fill="#666666" text-anchor="middle" dominant-baseline="central"><tspan font-size="12.96">1.69%</tspan></text>
<text x="612.7" y="1779.0" font-size="12" fill="#666666" text-anchor="end" dominant-baseline="central" transform="rotate(-45 612.7 1779.0)">其他</text>
</g>
<g clip-path="url(#cp16)">
<text x="697.5" y="1613.0" font-size="12.4" fill="#3a3a3a" dominant-baseline="central" letter-spacing="0.42"><tspan font-size="13.39">16.</tspan>您认为高职院校在培养学生就业能力方面还有哪些需要改进的地方<tspan font-size="13.39">?</tspan></text>
<text x="907.2" y="1715.2" font-size="40.5" fill="#404049" font-weight="bold" text-anchor="middle" dominant-baseline="central" stroke="#404049" stroke-width="1.01" transform="rotate(90 907.2 1715.2)">学生</text>
<text x="824.3" y="1738.2" font-size="42" fill="#7db4ea" font-weight="bold" text-anchor="middle" dominant-baseline="central" stroke="#7db4ea" stroke-width="1.05">项目</text>
<text x="754.3" y="1754.9" font-size="29.5" fill="#8ee47c" font-weight="bold" text-anchor="middle" dominant-baseline="central" stroke="#8ee47c" stroke-width="0.74">无</text>
<text x="767.1" y="1698.0" font-size="20" fill="#dbcb4e" font-weight="bold" text-anchor="middle" dominant-baseline="central" stroke="#dbcb4e" stroke-width="0.50">经历</text>
<text x="837.0" y="1690.0" font-size="20" fill="#24887f" font-weight="bold" text-anchor="middle" dominant-baseline="central" stroke="#24887f" stroke-width="0.50" transform="rotate(90 837.0 1690.0)">技能</text>
<text x="822.6" y="1781.7" font-size="20" fill="#7b7de6" font-weight="bold" text-anchor="middle" dominant-baseline="central" stroke="#7b7de6" stroke-width="0.50">企业</text>
<text x="864.4" y="1790.7" font-size="20" fill="#ec4f78" font-weight="bold" text-anchor="middle" dominant-baseline="central" stroke="#ec4f78" stroke-width="0.50" transform="rotate(90 864.4 1790.7)">实战</text>
<text x="906.0" y="1781.9" font-size="20" fill="#f5a04e" font-weight="bold" text-anchor="middle" dominant-baseline="central" stroke="#f5a04e" stroke-width="0.50" transform="rotate(90 906.0 1781.9)">没有</text>
<text x="739.2" y="1799.2" font-size="20" fill="#eb5353" font-weight="bold" text-anchor="middle" dominant-baseline="central" stroke="#eb5353" stroke-width="0.50">能力</text>
<text x="712.7" y="1664.0" font-size="9.4" fill="#7b7de6" font-weight="bold" text-anchor="middle" dominant-baseline="central" stroke="#7b7de6" stroke-width="0.00" letter-spacing="0.35">专业知识</text>
<text x="712.2" y="1681.2" font-size="9.4" fill="#dbcb4e" font-weight="bold" text-anchor="middle" dominant-baseline="central" stroke="#dbcb4e" stroke-width="0.00" letter-spacing="0.35">技术型</text>
<text x="712.2" y="1714.0" font-size="9.4" fill="#8ee47c" font-weight="bold" text-anchor="middle" dominant-baseline="central" stroke="#8ee47c" stroke-width="0.00" letter-spacing="0.35">降低学费</text>
<text x="753.8" y="1673.8" font-size="9.4" fill="#404049" font-weight="bold" text-anchor="middle" dominant-baseline="central" stroke="#404049" stroke-width="0.00" letter-spacing="0.35" transform="rotate(90 753.8 1673.8)">团结</text>
<text x="739.9" y="1699.9" font-size="9.4" fill="#7edbd2" font-weight="bold" text-anchor="middle" dominant-baseline="central" stroke="#7edbd2" stroke-width="0.00" letter-spacing="0.35" transform="rotate(90 739.9 1699.9)">案例实践</text>
<text x="794.5" y="1682.0" font-size="9.4" fill="#f5a04e" font-weight="bold" text-anchor="middle" dominant-baseline="central" stroke="#f5a04e" stroke-width="0.00" letter-spacing="0.35" transform="rotate(90 794.5 1682.0)">能动性</text>
<text x="809.4" y="1673.1" font-size="9.4" fill="#f5a04e" font-weight="bold" text-anchor="middle" dominant-baseline="central" stroke="#f5a04e" stroke-width="0.00" letter-spacing="0.35" transform="rotate(90 809.4 1673.1)">表现力</text>
<text x="864.3" y="1672.2" font-size="9.4" fill="#8ee47c" font-weight="bold" text-anchor="middle" dominant-baseline="central" stroke="#8ee47c" stroke-width="0.00" letter-spacing="0.35">协作</text>
<text x="933.3" y="1663.5" font-size="9.4" fill="#7db4ea" font-weight="bold" text-anchor="middle" dominant-baseline="central" stroke="#7db4ea" stroke-width="0.00" letter-spacing="0.35">综合</text>
<text x="946.5" y="1690.8" font-size="9.4" fill="#ec4f78" font-weight="bold" text-anchor="middle" dominant-baseline="central" stroke="#ec4f78" stroke-width="0.00" letter-spacing="0.35" transform="rotate(90 946.5 1690.8)">研究</text>
<text x="946.5" y="1723.0" font-size="9.4" fill="#dbcb4e" font-weight="bold" text-anchor="middle" dominant-baseline="central" stroke="#dbcb4e" stroke-width="0.00" letter-spacing="0.35">基础</text>
<text x="753.3" y="1723.8" font-size="9.4" fill="#ec4f78" font-weight="bold" text-anchor="middle" dominant-baseline="central" stroke="#ec4f78" stroke-width="0.00" letter-spacing="0.35" transform="rotate(90 753.3 1723.8)">融入</text>
<text x="727.1" y="1740.0" font-size="9.4" fill="#404049" font-weight="bold" text-anchor="middle" dominant-baseline="central" stroke="#404049" stroke-width="0.00" letter-spacing="0.35" transform="rotate(90 727.1 1740.0)">沟通</text>
<text x="712.7" y="1748.2" font-size="9.4" fill="#7edbd2" font-weight="bold" text-anchor="middle" dominant-baseline="central" stroke="#7edbd2" stroke-width="0.00" letter-spacing="0.35" transform="rotate(90 712.7 1748.2)">相结合</text>
<text x="726.4" y="1772.5" font-size="9.4" fill="#7b7de6" font-weight="bold" text-anchor="middle" dominant-baseline="central" stroke="#7b7de6" stroke-width="0.00" letter-spacing="0.35">认知</text>
<text x="698.5" y="1789.5" font-size="9.4" fill="#eb5353" font-weight="bold" text-anchor="middle" dominant-baseline="central" stroke="#eb5353" stroke-width="0.00" letter-spacing="0.35">技术</text>
<text x="712.9" y="1816.0" font-size="9.4" fill="#7edbd2" font-weight="bold" text-anchor="middle" dominant-baseline="central" stroke="#7edbd2" stroke-width="0.00" letter-spacing="0.35" transform="rotate(90 712.9 1816.0)">专业</text>
<text x="781.3" y="1805.1" font-size="9.4" fill="#7db4ea" font-weight="bold" text-anchor="middle" dominant-baseline="central" stroke="#7db4ea" stroke-width="0.00" letter-spacing="0.35">操作性</text>
<text x="823.1" y="1815.1" font-size="9.4" fill="#7db4ea" font-weight="bold" text-anchor="middle" dominant-baseline="central" stroke="#7db4ea" stroke-width="0.00" letter-spacing="0.35">表达能力</text>
<text x="933.3" y="1765.1" font-size="9.4" fill="#eb5353" font-weight="bold" text-anchor="middle" dominant-baseline="central" stroke="#eb5353" stroke-width="0.00" letter-spacing="0.35">理论</text>
<text x="946.5" y="1790.0" font-size="9.4" fill="#24887f" font-weight="bold" text-anchor="middle" dominant-baseline="central" stroke="#24887f" stroke-width="0.00" letter-spacing="0.35" transform="rotate(90 946.5 1790.0)">领域</text>
<text x="933.3" y="1798.1" font-size="9.4" fill="#24887f" font-weight="bold" text-anchor="middle" dominant-baseline="central" stroke="#24887f" stroke-width="0.00" letter-spacing="0.35" transform="rotate(90 933.3 1798.1)">人才</text>
</g>
<g clip-path="url(#cp17)">
<text x="1018.5" y="1613.0" font-size="12.4" fill="#3a3a3a" dominant-baseline="central" letter-spacing="0.42"><tspan font-size="13.39">17.</tspan>您认为行业转型升级对大数据、人工智能相关工作岗位有哪些影响<tspan font-size="13.39">?</tspan></text>
<text x="1218.8" y="1718.0" font-size="37" fill="#404049" font-weight="bold" text-anchor="middle" dominant-baseline="central" stroke="#404049" stroke-width="0.93" transform="rotate(90 1218.8 1718.0)">发展</text>
<text x="1143.7" y="1739.2" font-size="37" fill="#7db4ea" font-weight="bold" text-anchor="middle" dominant-baseline="central" stroke="#7db4ea" stroke-width="0.93">技术</text>
<text x="1070.6" y="1703.4" font-size="26" fill="#f5a04e" font-weight="bold" text-anchor="middle" dominant-baseline="central" stroke="#f5a04e" stroke-width="0.65" transform="rotate(90 1070.6 1703.4)">人才</text>
<text x="1144.1" y="1702.2" font-size="18" fill="#dbcb4e" font-weight="bold" text-anchor="middle" dominant-baseline="central" stroke="#dbcb4e" stroke-width="0.45">人工智能</text>
<text x="1080.6" y="1753.8" font-size="25" fill="#8ee47c" font-weight="bold" text-anchor="middle" dominant-baseline="central" stroke="#8ee47c" stroke-width="0.62">无</text>
<text x="1218.2" y="1777.6" font-size="26.5" fill="#7b7de6" font-weight="bold" text-anchor="middle" dominant-baseline="central" stroke="#7b7de6" stroke-width="0.66">专业</text>
<text x="1168.6" y="1792.8" font-size="18" fill="#24887f" font-weight="bold" text-anchor="middle" dominant-baseline="central" stroke="#24887f" stroke-width="0.45" transform="rotate(90 1168.6 1792.8)">社会</text>
<text x="1131.8" y="1785.9" font-size="18" fill="#ec4f78" font-weight="bold" text-anchor="middle" dominant-baseline="central" stroke="#ec4f78" stroke-width="0.45" transform="rotate(90 1131.8 1785.9)">没有</text>
<text x="1068.8" y="1791.9" font-size="18" fill="#eb5353" font-weight="bold" text-anchor="middle" dominant-baseline="central" stroke="#eb5353" stroke-width="0.45">能力</text>
<text x="1130.6" y="1679.1" font-size="9.4" fill="#7b7de6" font-weight="bold" text-anchor="middle" dominant-baseline="central" stroke="#7b7de6" stroke-width="0.00" letter-spacing="0.35">认知</text>
<text x="1180.6" y="1679.1" font-size="9.4" fill="#dbcb4e" font-weight="bold" text-anchor="middle" dominant-baseline="central" stroke="#dbcb4e" stroke-width="0.00" letter-spacing="0.35">协作</text>
<text x="1255.7" y="1695.9" font-size="9.4" fill="#24887f" font-weight="bold" text-anchor="middle" dominant-baseline="central" stroke="#24887f" stroke-width="0.00" letter-spacing="0.35" transform="rotate(90 1255.7 1695.9)">积极主动</text>
<text x="1255.5" y="1724.5" font-size="9.4" fill="#eb5353" font-weight="bold" text-anchor="middle" dominant-baseline="central" stroke="#eb5353" stroke-width="0.00" letter-spacing="0.35">数据</text>
<text x="1255.7" y="1755.9" font-size="9.4" fill="#7edbd2" font-weight="bold" text-anchor="middle" dominant-baseline="central" stroke="#7edbd2" stroke-width="0.00" letter-spacing="0.35" transform="rotate(90 1255.7 1755.9)">业务</text>
<text x="1255.7" y="1785.4" font-size="9.4" fill="#404049" font-weight="bold" text-anchor="middle" dominant-baseline="central" stroke="#404049" stroke-width="0.00" letter-spacing="0.35" transform="rotate(90 1255.7 1785.4)">产出</text>
<text x="1243.4" y="1807.5" font-size="9.4" fill="#7db4ea" font-weight="bold" text-anchor="middle" dominant-baseline="central" stroke="#7db4ea" stroke-width="0.00" letter-spacing="0.35">场景</text>
<text x="1267.8" y="1807.5" font-size="9.4" fill="#eb5353" font-weight="bold" text-anchor="middle" dominant-baseline="central" stroke="#eb5353" stroke-width="0.00" letter-spacing="0.35">预案</text>
<text x="1193.6" y="1809.3" font-size="9.4" fill="#f5a04e" font-weight="bold" text-anchor="middle" dominant-baseline="central" stroke="#f5a04e" stroke-width="0.00" letter-spacing="0.35" transform="rotate(90 1193.6 1809.3)">价值</text>
<text x="1131.3" y="1815.1" font-size="9.4" fill="#7db4ea" font-weight="bold" text-anchor="middle" dominant-baseline="central" stroke="#7db4ea" stroke-width="0.00" letter-spacing="0.35">企业</text>
<text x="1106.2" y="1800.5" font-size="9.4" fill="#404049" font-weight="bold" text-anchor="middle" dominant-baseline="central" stroke="#404049" stroke-width="0.00" letter-spacing="0.35" transform="rotate(90 1106.2 1800.5)">技能</text>
<text x="1093.4" y="1808.6" font-size="9.4" fill="#ec4f78" font-weight="bold" text-anchor="middle" dominant-baseline="central" stroke="#ec4f78" stroke-width="0.00" letter-spacing="0.35" transform="rotate(90 1093.4 1808.6)">重点</text>
<text x="1032.3" y="1815.1" font-size="9.4" fill="#8ee47c" font-weight="bold" text-anchor="middle" dominant-baseline="central" stroke="#8ee47c" stroke-width="0.00" letter-spacing="0.35">立竿见影</text>
<text x="1031.4" y="1784.2" font-size="9.4" fill="#7b7de6" font-weight="bold" text-anchor="middle" dominant-baseline="central" stroke="#7b7de6" stroke-width="0.00" letter-spacing="0.35">复合型</text>
<text x="1056.2" y="1769.3" font-size="9.4" fill="#8ee47c" font-weight="bold" text-anchor="middle" dominant-baseline="central" stroke="#8ee47c" stroke-width="0.00" letter-spacing="0.35">更高</text>
<text x="1019.5" y="1762.3" font-size="9.4" fill="#dbcb4e" font-weight="bold" text-anchor="middle" dominant-baseline="central" stroke="#dbcb4e" stroke-width="0.00" letter-spacing="0.35">数据挖掘</text>
<text x="1044.4" y="1747.0" font-size="9.4" fill="#7db4ea" font-weight="bold" text-anchor="middle" dominant-baseline="central" stroke="#7db4ea" stroke-width="0.00" letter-spacing="0.35">跟紧时事</text>
<text x="1093.4" y="1717.8" font-size="9.4" fill="#7edbd2" font-weight="bold" text-anchor="middle" dominant-baseline="central" stroke="#7edbd2" stroke-width="0.00" letter-spacing="0.35" transform="rotate(90 1093.4 1717.8)">不断学习</text>
<text x="1032.5" y="1725.7" font-size="9.4" fill="#24887f" font-weight="bold" text-anchor="middle" dominant-baseline="central" stroke="#24887f" stroke-width="0.00" letter-spacing="0.35" transform="rotate(90 1032.5 1725.7)">AI</text>
<text x="1044.6" y="1718.0" font-size="9.4" fill="#f5a04e" font-weight="bold" text-anchor="middle" dominant-baseline="central" stroke="#f5a04e" stroke-width="0.00" letter-spacing="0.35" transform="rotate(90 1044.6 1718.0)">求职者</text>
<text x="1031.8" y="1695.9" font-size="9.4" fill="#7edbd2" font-weight="bold" text-anchor="middle" dominant-baseline="central" stroke="#7edbd2" stroke-width="0.00" letter-spacing="0.35" transform="rotate(90 1031.8 1695.9)">工具</text>
<text x="1044.6" y="1687.1" font-size="9.4" fill="#ec4f78" font-weight="bold" text-anchor="middle" dominant-baseline="central" stroke="#ec4f78" stroke-width="0.00" letter-spacing="0.35" transform="rotate(90 1044.6 1687.1)">团队</text>
</g>
<path d="M606.8,1861.8 L608.6,1867 L614.2,1867.1 L609.8,1870.5 L611.4,1875.8 L606.8,1872.7 L602.2,1875.8 L603.8,1870.5 L599.4,1867.1 L605,1867 Z" fill="none" stroke="#a8a8a8" stroke-width="1"/>
<text x="620.5" y="1872.0" font-size="14" fill="#c2c2c2" dominant-baseline="central">问卷星<tspan font-size="15.12"> </tspan>提供技术支持</text>
</svg>
</body></html>
